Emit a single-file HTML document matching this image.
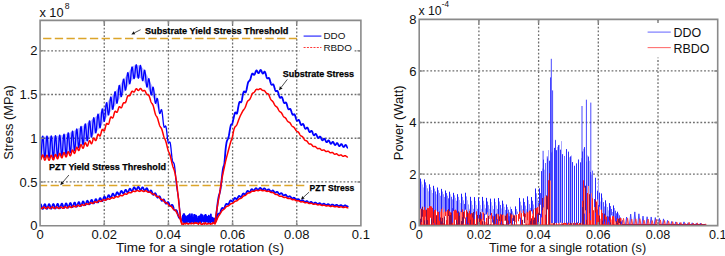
<!DOCTYPE html>
<html><head><meta charset="utf-8"><style>
html,body{margin:0;padding:0;background:#fff;}
svg{display:block;}
text{font-family:"Liberation Sans",sans-serif;fill:#111;}
.grid{stroke:#6e6e6e;stroke-width:1.3;stroke-dasharray:1.8 1.9;fill:none;}
.ax{stroke:#8a8a8a;stroke-width:1.6;fill:none;}
.thr{stroke:#dca52a;stroke-width:1.5;}
.bl{stroke:#0000ff;stroke-width:1.8;fill:none;stroke-linejoin:round;}
.rd{stroke:#ff0000;stroke-width:1.5;fill:none;stroke-linejoin:round;}
</style></head><body>
<svg width="725" height="256" viewBox="0 0 725 256">
<defs>
<clipPath id="cl"><rect x="40.1" y="20.4" width="320.79999999999995" height="205.29999999999998"/></clipPath>
<clipPath id="cr"><rect x="419.2" y="19.4" width="298.50000000000006" height="206.2"/></clipPath>
</defs>
<rect width="725" height="256" fill="#fff"/>
<line x1="104.26" y1="20.40" x2="104.26" y2="225.70" class="grid"/>
<line x1="168.42" y1="20.40" x2="168.42" y2="225.70" class="grid"/>
<line x1="232.58" y1="20.40" x2="232.58" y2="225.70" class="grid"/>
<line x1="296.74" y1="20.40" x2="296.74" y2="225.70" class="grid"/>
<line x1="40.10" y1="181.97" x2="360.90" y2="181.97" class="grid"/>
<line x1="40.10" y1="138.25" x2="360.90" y2="138.25" class="grid"/>
<line x1="40.10" y1="94.52" x2="360.90" y2="94.52" class="grid"/>
<line x1="40.10" y1="50.80" x2="360.90" y2="50.80" class="grid"/>
<path d="M43.1 38.4H301.1" class="thr" stroke-dasharray="8.3 3.4"/>
<path d="M38.9 185.5H304.3" class="thr" stroke-dasharray="8.3 3.386" clip-path="url(#cl)"/>
<g clip-path="url(#cl)">
<path d="M40.60 136.51L41.10 136.51L41.60 136.51L42.10 136.51L42.60 136.51L43.10 136.51L43.60 136.50L44.10 136.50L44.60 136.50L45.10 136.49L45.60 136.48L46.10 136.48L46.60 136.47L47.10 136.46L47.60 136.45L48.10 136.44L48.60 136.43L49.10 136.42L49.60 136.41L50.10 136.40L50.60 136.38L51.10 136.36L51.60 136.34L52.10 136.32L52.60 136.29L53.10 136.25L53.60 136.22L54.10 136.18L54.60 136.14L55.10 136.09L55.60 136.04L56.10 135.99L56.60 135.94L57.10 135.88L57.60 135.82L58.10 135.76L58.60 135.69L59.10 135.63L59.60 135.56L60.10 135.49L60.60 135.42L61.10 135.34L61.60 135.25L62.10 135.15L62.60 135.04L63.10 134.92L63.60 134.78L64.10 134.64L64.60 134.50L65.10 134.34L65.60 134.18L66.10 134.01L66.60 133.84L67.10 133.67L67.60 133.49L68.10 133.31L68.60 133.12L69.10 132.94L69.60 132.75L70.10 132.56L70.60 132.37L71.10 132.17L71.60 131.96L72.10 131.74L72.60 131.51L73.10 131.28L73.60 131.04L74.10 130.79L74.60 130.54L75.10 130.28L75.60 130.01L76.10 129.74L76.60 129.46L77.10 129.18L77.60 128.90L78.10 128.61L78.60 128.32L79.10 128.03L79.60 127.74L80.10 127.45L80.60 127.17L81.10 126.90L81.60 126.61L82.10 126.32L82.60 126.02L83.10 125.71L83.60 125.40L84.10 125.09L84.60 124.77L85.10 124.44L85.60 124.11L86.10 123.77L86.60 123.43L87.10 123.08L87.60 122.73L88.10 122.38L88.60 122.02L89.10 121.66L89.60 121.29L90.10 120.93L90.60 120.56L91.10 120.19L91.60 119.82L92.10 119.45L92.60 119.07L93.10 118.69L93.60 118.31L94.10 117.92L94.60 117.52L95.10 117.11L95.60 116.70L96.10 116.27L96.60 115.84L97.10 115.39L97.60 114.93L98.10 114.45L98.60 113.96L99.10 113.45L99.60 112.93L100.10 112.38L100.60 111.77L101.10 111.10L101.60 110.39L102.10 109.65L102.60 108.88L103.10 108.10L103.60 107.33L104.10 106.56L104.60 105.82L105.10 105.11L105.60 104.41L106.10 103.72L106.60 103.04L107.10 102.35L107.60 101.68L108.10 101.01L108.60 100.34L109.10 99.68L109.60 99.02L110.10 98.37L110.60 97.72L111.10 97.09L111.60 96.46L112.10 95.85L112.60 95.23L113.10 94.61L113.60 93.98L114.10 93.34L114.60 92.69L115.10 92.01L115.60 91.32L116.10 90.60L116.60 89.88L117.10 89.14L117.60 88.39L118.10 87.64L118.60 86.89L119.10 86.14L119.60 85.39L120.10 84.65L120.60 83.91L121.10 83.17L121.60 82.43L122.10 81.69L122.60 80.95L123.10 80.21L123.60 79.47L124.10 78.73L124.60 77.99L125.10 77.25L125.60 76.49L126.10 75.72L126.60 74.93L127.10 74.14L127.60 73.36L128.10 72.59L128.60 71.85L129.10 71.15L129.60 70.49L130.10 69.88L130.60 69.26L131.10 68.61L131.60 67.95L132.10 67.31L132.60 66.71L133.10 66.18L133.60 65.73L134.10 65.40L134.60 65.20L135.10 65.16L135.60 65.17L136.10 65.19L136.60 65.21L137.10 65.22L137.60 65.24L138.10 65.25L138.60 65.27L139.10 65.29L139.60 65.40L140.10 65.65L140.60 66.00L141.10 66.43L141.60 66.92L142.10 67.44L142.60 67.98L143.10 68.51L143.60 69.12L144.10 69.83L144.60 70.61L145.10 71.44L145.60 72.30L146.10 73.18L146.60 74.15L147.10 75.18L147.60 76.25L148.10 77.36L148.60 78.47L149.10 79.58L149.60 80.66L150.10 81.70L150.60 82.70L151.10 83.67L151.60 84.61L152.10 85.57L152.60 86.53L153.10 87.54L153.60 88.60L154.10 89.74L154.60 91.00L155.10 92.35L155.60 93.77L156.10 95.23L156.60 96.71L157.10 98.18L157.60 99.63L158.10 101.02L158.60 102.34L159.10 103.61L159.60 104.85L159.60 112.75L159.10 111.69L158.60 110.62L158.10 109.49L157.60 108.28L157.10 107.02L156.60 105.74L156.10 104.44L155.60 103.17L155.10 101.94L154.60 100.78L154.10 99.70L153.60 98.70L153.10 97.77L152.60 96.88L152.10 96.04L151.60 95.21L151.10 94.39L150.60 93.55L150.10 92.68L149.60 91.76L149.10 90.80L148.60 89.82L148.10 88.83L147.60 87.85L147.10 86.90L146.60 86.00L146.10 85.16L145.60 84.33L145.10 83.50L144.60 82.69L144.10 81.94L143.60 81.27L143.10 80.69L142.60 80.19L142.10 79.69L141.60 79.19L141.10 78.73L140.60 78.33L140.10 78.02L139.60 77.80L139.10 77.72L138.60 77.73L138.10 77.75L137.60 77.76L137.10 77.78L136.60 77.79L136.10 77.81L135.60 77.83L135.10 77.84L134.60 77.91L134.10 78.14L133.60 78.51L133.10 78.98L132.60 79.55L132.10 80.18L131.60 80.85L131.10 81.54L130.60 82.22L130.10 82.88L129.60 83.51L129.10 84.19L128.60 84.91L128.10 85.67L127.60 86.45L127.10 87.25L126.60 88.06L126.10 88.87L125.60 89.67L125.10 90.45L124.60 91.21L124.10 91.97L123.60 92.73L123.10 93.49L122.60 94.25L122.10 95.01L121.60 95.77L121.10 96.53L120.60 97.29L120.10 98.05L119.60 98.82L119.10 99.59L118.60 100.37L118.10 101.15L117.60 101.94L117.10 102.71L116.60 103.48L116.10 104.24L115.60 104.98L115.10 105.71L114.60 106.41L114.10 107.10L113.60 107.77L113.10 108.42L112.60 109.07L112.10 109.72L111.60 110.37L111.10 111.02L110.60 111.69L110.10 112.36L109.60 113.06L109.10 113.77L108.60 114.48L108.10 115.20L107.60 115.92L107.10 116.64L106.60 117.38L106.10 118.11L105.60 118.85L105.10 119.60L104.60 120.36L104.10 121.15L103.60 121.97L103.10 122.79L102.60 123.62L102.10 124.44L101.60 125.23L101.10 125.99L100.60 126.71L100.10 127.37L99.60 128.01L99.10 128.63L98.60 129.24L98.10 129.83L97.60 130.41L97.10 130.97L96.60 131.52L96.10 132.05L95.60 132.58L95.10 133.09L94.60 133.60L94.10 134.10L93.60 134.59L93.10 135.07L92.60 135.55L92.10 136.03L91.60 136.50L91.10 136.97L90.60 137.44L90.10 137.91L89.60 138.37L89.10 138.84L88.60 139.30L88.10 139.76L87.60 140.21L87.10 140.66L86.60 141.11L86.10 141.55L85.60 141.99L85.10 142.42L84.60 142.85L84.10 143.27L83.60 143.68L83.10 144.09L82.60 144.50L82.10 144.90L81.60 145.29L81.10 145.68L80.60 146.05L80.10 146.43L79.60 146.77L79.10 147.10L78.60 147.44L78.10 147.77L77.60 148.09L77.10 148.42L76.60 148.74L76.10 149.05L75.60 149.36L75.10 149.67L74.60 149.97L74.10 150.26L73.60 150.55L73.10 150.83L72.60 151.10L72.10 151.37L71.60 151.63L71.10 151.88L70.60 152.12L70.10 152.35L69.60 152.58L69.10 152.81L68.60 153.03L68.10 153.26L67.60 153.48L67.10 153.70L66.60 153.91L66.10 154.13L65.60 154.33L65.10 154.53L64.60 154.73L64.10 154.92L63.60 155.10L63.10 155.27L62.60 155.43L62.10 155.58L61.60 155.73L61.10 155.86L60.60 155.97L60.10 156.08L59.60 156.16L59.10 156.24L58.60 156.32L58.10 156.40L57.60 156.47L57.10 156.54L56.60 156.60L56.10 156.67L55.60 156.73L55.10 156.79L54.60 156.84L54.10 156.90L53.60 156.95L53.10 156.99L52.60 157.04L52.10 157.08L51.60 157.11L51.10 157.14L50.60 157.17L50.10 157.20L49.60 157.22L49.10 157.24L48.60 157.26L48.10 157.28L47.60 157.30L47.10 157.32L46.60 157.34L46.10 157.35L45.60 157.37L45.10 157.39L44.60 157.40L44.10 157.42L43.60 157.43L43.10 157.45L42.60 157.46L42.10 157.47L41.60 157.48L41.10 157.49L40.60 157.49Z" fill="#0000ff" fill-opacity="0.27"/>
<path d="M40.60 157.99L40.80 157.51L41.00 156.12L41.20 153.94L41.40 151.15L41.60 148.01L41.80 144.77L42.00 141.74L42.20 139.15L42.40 137.25L42.60 136.20L42.80 136.08L43.00 136.90L43.20 138.60L43.40 141.03L43.60 143.97L43.80 147.17L44.00 150.35L44.20 153.23L44.40 155.57L44.60 157.16L44.80 157.87L45.00 157.62L45.20 156.45L45.40 154.46L45.60 151.81L45.80 148.73L46.00 145.51L46.20 142.40L46.40 139.69L46.60 137.61L46.80 136.33L47.00 135.97L47.20 136.56L47.40 138.04L47.60 140.29L47.80 143.11L48.00 146.26L48.20 149.46L48.40 152.43L48.60 154.91L48.80 156.70L49.00 157.62L49.20 157.62L49.40 156.67L49.60 154.87L49.80 152.37L50.00 149.39L50.20 146.19L50.40 143.04L50.60 140.21L50.80 137.96L51.00 136.47L51.20 135.87L51.40 136.21L51.60 137.47L51.80 139.53L52.00 142.22L52.20 145.29L52.40 148.48L52.60 151.51L52.80 154.12L53.00 156.08L53.20 157.22L53.40 157.44L53.60 156.71L53.80 155.11L54.00 152.77L54.20 149.88L54.40 146.71L54.60 143.52L54.80 140.59L55.00 138.17L55.20 136.47L55.40 135.63L55.60 135.73L55.80 136.75L56.00 138.61L56.20 141.13L56.40 144.11L56.60 147.27L56.80 150.34L57.00 153.06L57.20 155.18L57.40 156.53L57.60 156.97L57.80 156.47L58.00 155.07L58.20 152.90L58.40 150.13L58.60 147.00L58.80 143.80L59.00 140.78L59.20 138.21L59.40 136.31L59.60 135.24L59.80 135.09L60.00 135.88L60.20 137.53L60.40 139.89L60.60 142.75L60.80 145.86L61.00 148.95L61.20 151.74L61.40 153.99L61.60 155.50L61.80 156.14L62.00 155.85L62.20 154.65L62.40 152.64L62.60 150.00L62.80 146.95L63.00 143.74L63.20 140.66L63.40 137.96L63.60 135.88L63.80 134.58L64.00 134.18L64.20 134.70L64.40 136.09L64.60 138.22L64.80 140.90L65.00 143.89L65.20 146.92L65.40 149.73L65.60 152.07L65.80 153.73L66.00 154.55L66.20 154.47L66.40 153.48L66.60 151.67L66.80 149.18L67.00 146.23L67.20 143.06L67.40 139.95L67.60 137.16L67.80 134.92L68.00 133.42L68.20 132.78L68.40 133.04L68.60 134.19L68.80 136.10L69.00 138.61L69.20 141.48L69.40 144.47L69.60 147.31L69.80 149.74L70.00 151.54L70.20 152.55L70.40 152.69L70.60 151.92L70.80 150.32L71.00 148.00L71.20 145.18L71.40 142.08L71.60 138.96L71.80 136.10L72.00 133.72L72.20 132.03L72.40 131.17L72.60 131.19L72.80 132.08L73.00 133.77L73.20 136.09L73.40 138.83L73.60 141.74L73.80 144.56L74.00 147.05L74.20 148.97L74.40 150.14L74.60 150.47L74.80 149.90L75.00 148.50L75.20 146.35L75.40 143.65L75.60 140.62L75.80 137.52L76.00 134.59L76.20 132.09L76.40 130.22L76.60 129.14L76.80 128.92L77.00 129.57L77.20 131.02L77.40 133.14L77.60 135.73L77.80 138.56L78.00 141.37L78.20 143.90L78.40 145.92L78.60 147.26L78.80 147.78L79.00 147.43L79.20 146.22L79.40 144.27L79.60 141.72L79.80 138.78L80.00 135.71L80.20 132.76L80.40 130.17L80.60 128.16L80.80 126.89L81.00 126.46L81.20 126.88L81.40 128.11L81.60 130.02L81.80 132.44L82.00 135.13L82.20 137.86L82.40 140.38L82.60 142.46L82.80 143.90L83.00 144.57L83.20 144.41L83.40 143.41L83.60 141.67L83.80 139.31L84.00 136.54L84.20 133.57L84.40 130.67L84.60 128.06L84.80 125.95L85.00 124.53L85.20 123.88L85.40 124.06L85.60 125.02L85.80 126.68L86.00 128.86L86.20 131.37L86.40 133.98L86.60 136.43L86.80 138.52L87.00 140.03L87.20 140.85L87.40 140.87L87.60 140.09L87.80 138.57L88.00 136.42L88.20 133.82L88.40 130.99L88.60 128.16L88.80 125.55L89.00 123.38L89.20 121.83L89.40 121.00L89.60 120.95L89.80 121.67L90.00 123.08L90.20 125.04L90.40 127.36L90.60 129.82L90.80 132.21L91.00 134.28L91.20 135.87L91.40 136.80L91.60 137.00L91.80 136.43L92.00 135.13L92.20 133.20L92.40 130.80L92.60 128.12L92.80 125.38L93.00 122.80L93.20 120.60L93.40 118.94L93.60 117.95L93.80 117.70L94.00 118.20L94.20 119.37L94.40 121.10L94.60 123.22L94.80 125.53L95.00 127.82L95.20 129.87L95.40 131.48L95.60 132.51L95.80 132.84L96.00 132.45L96.20 131.35L96.40 129.62L96.60 127.39L96.80 124.85L97.00 122.21L97.20 119.66L97.40 117.42L97.60 115.66L97.80 114.51L98.00 114.05L98.20 114.30L98.40 115.22L98.60 116.70L98.80 118.59L99.00 120.71L99.20 122.85L99.40 124.82L99.60 126.41L99.80 127.48L100.00 127.91L100.20 127.66L100.40 126.71L100.60 125.13L100.80 123.03L101.00 120.58L101.20 117.96L101.40 115.38L101.60 113.04L101.80 111.11L102.00 109.73L102.20 109.00L102.40 108.95L102.60 109.56L102.80 110.74L103.00 112.37L103.20 114.28L103.40 116.26L103.60 118.13L103.80 119.70L104.00 120.79L104.20 121.30L104.40 121.15L104.60 120.34L104.80 118.90L105.00 116.94L105.20 114.60L105.40 112.06L105.60 109.52L105.80 107.17L106.00 105.18L106.20 103.71L106.40 102.86L106.60 102.67L106.80 103.13L107.00 104.18L107.20 105.70L107.40 107.54L107.60 109.50L107.80 111.40L108.00 113.04L108.20 114.26L108.40 114.94L108.60 114.98L108.80 114.37L109.00 113.13L109.20 111.35L109.40 109.16L109.60 106.73L109.80 104.25L110.00 101.91L110.20 99.88L110.40 98.33L110.60 97.35L110.80 97.01L111.00 97.32L111.20 98.23L111.40 99.63L111.60 101.38L111.80 103.30L112.00 105.21L112.20 106.91L112.40 108.25L112.60 109.07L112.80 109.29L113.00 108.87L113.20 107.82L113.40 106.22L113.60 104.17L113.80 101.84L114.00 99.40L114.20 97.05L114.40 94.96L114.60 93.29L114.80 92.17L115.00 91.66L115.20 91.78L115.40 92.50L115.60 93.73L115.80 95.34L116.00 97.16L116.20 99.01L116.40 100.71L116.60 102.08L116.80 102.97L117.00 103.29L117.20 102.98L117.40 102.04L117.60 100.54L117.80 98.57L118.00 96.28L118.20 93.84L118.40 91.44L118.60 89.27L118.80 87.47L119.00 86.18L119.20 85.49L119.40 85.43L119.60 85.97L119.80 87.05L120.00 88.53L120.20 90.27L120.40 92.09L120.60 93.80L120.80 95.24L121.00 96.24L121.20 96.70L121.40 96.55L121.60 95.78L121.80 94.44L122.00 92.60L122.20 90.41L122.40 88.03L122.60 85.64L122.80 83.43L123.00 81.55L123.20 80.15L123.40 79.31L123.60 79.09L123.80 79.48L124.00 80.42L124.20 81.79L124.40 83.46L124.60 85.26L124.80 86.99L125.00 88.49L125.20 89.59L125.40 90.18L125.60 90.17L125.80 89.54L126.00 88.33L126.20 86.60L126.40 84.49L126.60 82.15L126.80 79.75L127.00 77.48L127.20 75.50L127.40 73.97L127.60 72.98L127.80 72.59L128.00 72.82L128.20 73.61L128.40 74.87L128.60 76.46L128.80 78.22L129.00 79.98L129.20 81.55L129.40 82.78L129.60 83.53L129.80 83.73L130.00 83.33L130.20 82.33L130.40 80.80L130.60 78.86L130.80 76.63L131.00 74.31L131.20 72.07L131.40 70.08L131.60 68.49L131.80 67.43L132.00 66.94L132.20 67.07L132.40 67.77L132.60 68.96L132.80 70.52L133.00 72.30L133.20 74.12L133.40 75.81L133.60 77.21L133.80 78.18L134.00 78.63L134.20 78.51L134.40 77.82L134.60 76.62L134.80 75.01L135.00 73.13L135.20 71.12L135.40 69.15L135.60 67.39L135.80 65.98L136.00 65.06L136.20 64.70L136.40 64.93L136.60 65.72L136.80 67.02L137.00 68.70L137.20 70.63L137.40 72.62L137.60 74.51L137.80 76.14L138.00 77.37L138.20 78.08L138.40 78.22L138.60 77.78L138.80 76.79L139.00 75.35L139.20 73.59L139.40 71.67L139.60 69.77L139.80 68.05L140.00 66.67L140.20 65.76L140.40 65.39L140.60 65.61L140.80 66.41L141.00 67.74L141.20 69.49L141.40 71.52L141.60 73.67L141.80 75.76L142.00 77.64L142.20 79.16L142.40 80.20L142.60 80.69L142.80 80.61L143.00 79.97L143.20 78.87L143.40 77.44L143.60 75.80L143.80 74.13L144.00 72.60L144.20 71.35L144.40 70.53L144.60 70.22L144.80 70.48L145.00 71.30L145.20 72.66L145.40 74.44L145.60 76.53L145.80 78.78L146.00 81.01L146.20 83.06L146.40 84.78L146.60 86.07L146.80 86.84L147.00 87.06L147.20 86.76L147.40 85.99L147.60 84.86L147.80 83.51L148.00 82.08L148.20 80.74L148.40 79.63L148.60 78.89L148.80 78.62L149.00 78.86L149.20 79.63L149.40 80.89L149.60 82.56L149.80 84.54L150.00 86.67L150.20 88.80L150.40 90.80L150.60 92.51L150.80 93.82L151.00 94.66L151.20 94.99L151.40 94.82L151.60 94.20L151.80 93.22L152.00 91.99L152.20 90.66L152.40 89.38L152.60 88.29L152.80 87.51L153.00 87.14L153.20 87.25L153.40 87.85L153.60 88.93L153.80 90.42L154.00 92.23L154.20 94.24L154.40 96.31L154.60 98.29L154.80 100.06L155.00 101.51L155.20 102.55L155.40 103.16L155.60 103.32L155.80 103.08L156.00 102.50L156.20 101.69L156.40 100.76L156.60 99.85L156.80 99.08L157.00 98.56L157.20 98.38L157.40 98.59L157.60 99.21L157.80 100.24L158.00 101.61L158.20 103.25L158.40 105.05L158.60 106.91L158.80 108.69L159.00 110.30L159.20 111.64L159.40 112.63L159.60 113.25L159.80 113.48L160.00 113.36L160.20 112.93L160.40 112.30L160.60 111.55L160.80 110.80L161.00 110.16L161.20 109.73L161.40 109.59L161.60 109.80L161.80 110.38L162.00 111.33L162.20 112.60L162.40 114.18L162.60 115.99L162.80 117.92L163.00 119.86L163.20 121.72L163.40 123.40L163.60 124.81L163.80 125.92L164.00 126.68L164.20 127.12L164.40 127.25L164.60 127.14L164.80 126.86L165.00 126.50L165.20 126.18L165.40 125.98L165.60 126.00L165.80 126.29L166.00 126.90L166.20 127.84L166.40 129.08L166.60 130.59L166.80 132.28L167.00 134.09L167.20 135.91L167.40 137.66L167.60 139.24L167.80 140.59L168.00 141.66L168.20 142.41L168.40 142.85L168.60 142.99L168.80 142.90L169.00 142.66L169.20 142.36L169.40 142.08L169.60 141.93L169.80 141.98L170.00 142.30L170.20 142.94L170.40 143.90L170.60 145.19L170.80 146.75L171.00 148.54L171.20 150.47L171.40 152.47L171.60 154.43L171.80 156.27L172.00 157.93L172.20 159.32L172.40 160.43L172.60 161.26L172.80 161.84L173.00 162.21L173.20 162.43L173.40 162.60L173.60 162.78L173.80 163.06L174.00 163.52L174.20 164.21L174.40 165.16L174.60 166.40L174.80 167.92L175.00 169.69L175.20 171.67L175.40 173.79L175.60 175.98L175.80 178.17L176.00 180.28L176.20 182.27L176.40 184.07L176.60 185.70L176.80 187.21L177.00 188.62L177.20 189.92L177.40 191.15L177.60 192.35L177.80 193.55L178.00 194.80L178.20 196.14L178.40 197.59L178.60 199.16L178.80 200.84L179.00 202.59L179.20 204.44L179.40 206.44L179.60 208.50L179.80 210.59L180.00 212.61L180.20 214.49L180.40 216.16L180.60 217.61L180.80 218.81L181.00 219.76L181.20 220.50L181.40 221.05L181.60 221.47L181.80 221.79L182.00 222.08L182.20 222.36L182.40 222.68" class="bl" style="stroke-width:1.3"/>
<path d="M215.00 222.00L215.20 220.87L215.40 219.75L215.60 218.60L215.80 217.41L216.00 216.15L216.20 214.80L216.40 213.35L216.60 211.81L216.80 210.18L217.00 208.49L217.20 206.77L217.40 205.05L217.60 203.38L217.80 201.80L218.00 200.34L218.20 199.02L218.40 197.86L218.60 196.86L218.80 196.00L219.00 195.26L219.20 194.60L219.40 193.97L219.60 193.33L219.80 192.62L220.00 191.79L220.20 190.79L220.40 189.65L220.60 188.34L220.80 186.89L221.00 185.29L221.20 183.59L221.40 181.81L221.60 179.99L221.80 178.18L222.00 176.40L222.20 174.63L222.40 172.89L222.60 171.26L222.80 169.83L223.00 168.65L223.20 167.74L223.40 167.01L223.60 166.36L223.80 165.70L224.00 164.93L224.20 163.97L224.40 162.73L224.60 161.12L224.80 158.95L225.00 156.42L225.20 153.81L225.40 151.41L225.60 149.42L225.80 147.62L226.00 145.99L226.20 144.55L226.40 143.31L226.60 142.28L226.80 141.46L227.00 140.82L227.20 140.33L227.40 139.93L227.60 139.56L227.80 139.18L228.00 138.75L228.20 138.24L228.40 137.62L228.60 136.87L228.80 135.99L229.00 134.97L229.20 133.85L229.40 132.66L229.60 131.44L229.80 130.23L230.00 129.05L230.20 127.95L230.40 126.96L230.60 126.11L230.80 125.42L231.00 124.90L231.20 124.54L231.40 124.31L231.60 124.18L231.80 124.10L232.00 124.00L232.20 123.76L232.40 123.30L232.60 122.65L232.80 121.84L233.00 120.92L233.20 119.96L233.40 119.02L233.60 118.18L233.80 117.30L234.00 116.39L234.20 115.50L234.40 114.66L234.60 113.92L234.80 113.31L235.00 112.86L235.20 112.59L235.40 112.48L235.60 112.53L235.80 112.71L236.00 112.97L236.20 113.26L236.40 113.52L236.60 113.70L236.80 113.71L237.00 113.44L237.20 112.88L237.40 112.06L237.60 111.05L237.80 109.90L238.00 108.69L238.20 107.51L238.40 106.39L238.60 105.32L238.80 104.34L239.00 103.49L239.20 102.80L239.40 102.29L239.60 101.97L239.80 101.81L240.00 101.81L240.20 101.91L240.40 102.07L240.60 102.23L240.80 102.33L241.00 102.32L241.20 102.14L241.40 101.76L241.60 101.18L241.80 100.40L242.00 99.46L242.20 98.40L242.40 97.26L242.60 96.11L242.80 95.00L243.00 94.01L243.20 93.16L243.40 92.47L243.60 91.96L243.80 91.62L244.00 91.47L244.20 91.47L244.40 91.59L244.60 91.80L244.80 92.04L245.00 92.26L245.20 92.42L245.40 92.47L245.60 92.37L245.80 92.12L246.00 91.69L246.20 91.09L246.40 90.34L246.60 89.46L246.80 88.47L247.00 87.42L247.20 86.36L247.40 85.33L247.60 84.38L247.80 83.55L248.00 82.84L248.20 82.27L248.40 81.84L248.60 81.52L248.80 81.29L249.00 81.13L249.20 80.99L249.40 80.84L249.60 80.65L249.80 80.41L250.00 80.09L250.20 79.69L250.40 79.16L250.60 78.54L250.80 77.83L251.00 77.08L251.20 76.32L251.40 75.60L251.60 74.94L251.80 74.39L252.00 73.97L252.20 73.69L252.40 73.55L252.60 73.54L252.80 73.65L253.00 73.85L253.20 74.10L253.40 74.36L253.60 74.60L253.80 74.77L254.00 74.86L254.20 74.83L254.40 74.67L254.60 74.39L254.80 73.99L255.00 73.50L255.20 72.95L255.40 72.38L255.60 71.83L255.80 71.34L256.00 70.95L256.20 70.67L256.40 70.52L256.60 70.51L256.80 70.63L257.00 70.87L257.20 71.21L257.40 71.60L257.60 72.02L257.80 72.41L258.00 72.76L258.20 73.01L258.40 73.15L258.60 73.16L258.80 73.04L259.00 72.80L259.20 72.45L259.40 72.03L259.60 71.57L259.80 71.11L260.00 70.68L260.20 70.34L260.40 70.10L260.60 69.99L260.80 70.02L261.00 70.19L261.20 70.48L261.40 70.88L261.60 71.34L261.80 71.84L262.00 72.33L262.20 72.78L262.40 73.15L262.60 73.42L262.80 73.56L263.00 73.57L263.20 73.46L263.40 73.24L263.60 72.93L263.80 72.58L264.00 72.22L264.20 71.91L264.40 71.71L264.60 71.65L264.80 71.74L265.00 71.99L265.20 72.40L265.40 72.94L265.60 73.58L265.80 74.31L266.00 75.06L266.20 75.80L266.40 76.49L266.60 77.10L266.80 77.61L267.00 78.00L267.20 78.27L267.40 78.41L267.60 78.43L267.80 78.37L268.00 78.25L268.20 78.11L268.40 77.98L268.60 77.91L268.80 77.92L269.00 78.04L269.20 78.29L269.40 78.67L269.60 79.17L269.80 79.77L270.00 80.46L270.20 81.19L270.40 81.93L270.60 82.64L270.80 83.28L271.00 83.83L271.20 84.27L271.40 84.57L271.60 84.75L271.80 84.81L272.00 84.77L272.20 84.67L272.40 84.53L272.60 84.40L272.80 84.31L273.00 84.30L273.20 84.39L273.40 84.61L273.60 84.95L273.80 85.42L274.00 86.00L274.20 86.67L274.40 87.39L274.60 88.13L274.80 88.85L275.00 89.52L275.20 90.10L275.40 90.57L275.60 90.92L275.80 91.14L276.00 91.24L276.20 91.24L276.40 91.17L276.60 91.05L276.80 90.94L277.00 90.87L277.20 90.86L277.40 90.96L277.60 91.18L277.80 91.52L278.00 91.99L278.20 92.57L278.40 93.24L278.60 93.96L278.80 94.71L279.00 95.44L279.20 96.12L279.40 96.70L279.60 97.17L279.80 97.51L280.00 97.72L280.20 97.80L280.40 97.77L280.60 97.65L280.80 97.48L281.00 97.30L281.20 97.13L281.40 97.02L281.60 97.00L281.80 97.10L282.00 97.31L282.20 97.66L282.40 98.12L282.60 98.68L282.80 99.32L283.00 100.00L283.20 100.68L283.40 101.32L283.60 101.90L283.80 102.38L284.00 102.74L284.20 102.98L284.40 103.09L284.60 103.10L284.80 103.02L285.00 102.89L285.20 102.74L285.40 102.60L285.60 102.51L285.80 102.51L286.00 102.62L286.20 102.85L286.40 103.21L286.60 103.69L286.80 104.28L287.00 104.96L287.20 105.67L287.40 106.40L287.60 107.11L287.80 107.75L288.00 108.30L288.20 108.74L288.40 109.06L288.60 109.25L288.80 109.33L289.00 109.31L289.20 109.22L289.40 109.10L289.60 108.98L289.80 108.89L290.00 108.86L290.20 108.93L290.40 109.11L290.60 109.41L290.80 109.82L291.00 110.33L291.20 110.92L291.40 111.57L291.60 112.22L291.80 112.86L292.00 113.44L292.20 113.94L292.40 114.34L292.60 114.62L292.80 114.78L293.00 114.82L293.20 114.77L293.40 114.66L293.60 114.51L293.80 114.37L294.00 114.26L294.20 114.23L294.40 114.30L294.60 114.50L294.80 114.83L295.00 115.28L295.20 115.84L295.40 116.49L295.60 117.19L295.80 117.91L296.00 118.60L296.20 119.23L296.40 119.77L296.60 120.21L296.80 120.52L297.00 120.70L297.20 120.77L297.40 120.73L297.60 120.60L297.80 120.43L298.00 120.24L298.20 120.06L298.40 119.94L298.60 119.91L298.80 119.97L299.00 120.15L299.20 120.45L299.40 120.86L299.60 121.36L299.80 121.92L300.00 122.52L300.20 123.12L300.40 123.68L300.60 124.17L300.80 124.56L301.00 124.85L301.20 125.01L301.40 125.06L301.60 125.00L301.80 124.86L302.00 124.66L302.20 124.43L302.40 124.22L302.60 124.06L302.80 123.97L303.00 123.98L303.20 124.11L303.40 124.35L303.60 124.71L303.80 125.16L304.00 125.69L304.20 126.25L304.40 126.83L304.60 127.37L304.80 127.86L305.00 128.26L305.20 128.55L305.40 128.72L305.60 128.78L305.80 128.72L306.00 128.58L306.20 128.38L306.40 128.14L306.60 127.91L306.80 127.71L307.00 127.59L307.20 127.56L307.40 127.64L307.60 127.83L307.80 128.14L308.00 128.55L308.20 129.04L308.40 129.58L308.60 130.13L308.80 130.67L309.00 131.15L309.20 131.55L309.40 131.86L309.60 132.04L309.80 132.11L310.00 132.07L310.20 131.94L310.40 131.74L310.60 131.50L310.80 131.26L311.00 131.05L311.20 130.89L311.40 130.83L311.60 130.87L311.80 131.03L312.00 131.30L312.20 131.68L312.40 132.14L312.60 132.65L312.80 133.19L313.00 133.72L313.20 134.21L313.40 134.62L313.60 134.94L313.80 135.15L314.00 135.25L314.20 135.23L314.40 135.11L314.60 134.92L314.80 134.68L315.00 134.43L315.20 134.20L315.40 134.02L315.60 133.93L315.80 133.93L316.00 134.04L316.20 134.27L316.40 134.60L316.60 135.02L316.80 135.51L317.00 136.02L317.20 136.53L317.40 137.01L317.60 137.42L317.80 137.74L318.00 137.96L318.20 138.06L318.40 138.05L318.60 137.93L318.80 137.74L319.00 137.49L319.20 137.21L319.40 136.95L319.60 136.74L319.80 136.59L320.00 136.54L320.20 136.60L320.40 136.77L320.60 137.05L320.80 137.42L321.00 137.85L321.20 138.33L321.40 138.82L321.60 139.28L321.80 139.68L322.00 140.00L322.20 140.21L322.40 140.32L322.60 140.31L322.80 140.20L323.00 140.00L323.20 139.75L323.40 139.46L323.60 139.18L323.80 138.94L324.00 138.76L324.20 138.67L324.40 138.68L324.60 138.81L324.80 139.04L325.00 139.37L325.20 139.78L325.40 140.23L325.60 140.69L325.80 141.14L326.00 141.54L326.20 141.86L326.40 142.08L326.60 142.20L326.80 142.21L327.00 142.11L327.20 141.92L327.40 141.66L327.60 141.37L327.80 141.07L328.00 140.80L328.20 140.59L328.40 140.46L328.60 140.44L328.80 140.52L329.00 140.71L329.20 141.00L329.40 141.36L329.60 141.78L329.80 142.22L330.00 142.66L330.20 143.05L330.40 143.37L330.60 143.61L330.80 143.73L331.00 143.75L331.20 143.66L331.40 143.48L331.60 143.23L331.80 142.93L332.00 142.62L332.20 142.33L332.40 142.10L332.60 141.93L332.80 141.87L333.00 141.91L333.20 142.06L333.40 142.31L333.60 142.64L333.80 143.03L334.00 143.46L334.20 143.88L334.40 144.27L334.60 144.60L334.80 144.84L335.00 144.98L335.20 145.02L335.40 144.94L335.60 144.78L335.80 144.53L336.00 144.24L336.20 143.92L336.40 143.62L336.60 143.36L336.80 143.17L337.00 143.08L337.20 143.08L337.40 143.19L337.60 143.41L337.80 143.71L338.00 144.07L338.20 144.48L338.40 144.89L338.60 145.28L338.80 145.61L339.00 145.87L339.20 146.03L339.40 146.08L339.60 146.03L339.80 145.88L340.00 145.65L340.20 145.36L340.40 145.05L340.60 144.74L340.80 144.46L341.00 144.25L341.20 144.12L341.40 144.09L341.60 144.17L341.80 144.35L342.00 144.63L342.20 144.97L342.40 145.36L342.60 145.76L342.80 146.14L343.00 146.48L343.20 146.75L343.40 146.93L343.60 147.00L343.80 146.97L344.00 146.84L344.20 146.62L344.40 146.34L344.60 146.03L344.80 145.72L345.00 145.43L345.20 145.19L345.40 145.04L345.60 144.98L345.80 145.02L346.00 145.17L346.20 145.41L346.40 145.73L346.60 146.10L346.80 146.48L347.00 146.87L347.20 147.21L347.40 147.49L347.60 147.68L347.80 147.77L348.00 147.75" class="bl"/>
<path d="M40.60 204.20L40.80 204.31L41.00 204.61L41.20 205.09L41.40 205.69L41.60 206.37L41.80 207.07L42.00 207.73L42.20 208.29L42.40 208.70L42.60 208.93L42.80 208.95L43.00 208.76L43.20 208.39L43.40 207.86L43.60 207.22L43.80 206.53L44.00 205.83L44.20 205.21L44.40 204.70L44.60 204.35L44.80 204.20L45.00 204.24L45.20 204.49L45.40 204.92L45.60 205.49L45.80 206.14L46.00 206.83L46.20 207.49L46.40 208.07L46.60 208.51L46.80 208.78L47.00 208.85L47.20 208.72L47.40 208.39L47.60 207.90L47.80 207.29L48.00 206.61L48.20 205.92L48.40 205.27L48.60 204.73L48.80 204.35L49.00 204.14L49.20 204.14L49.40 204.33L49.60 204.71L49.80 205.23L50.00 205.86L50.20 206.54L50.40 207.20L50.60 207.79L50.80 208.26L51.00 208.57L51.20 208.69L51.40 208.60L51.60 208.33L51.80 207.88L52.00 207.30L52.20 206.63L52.40 205.95L52.60 205.29L52.80 204.73L53.00 204.30L53.20 204.05L53.40 204.00L53.60 204.14L53.80 204.47L54.00 204.95L54.20 205.55L54.40 206.21L54.60 206.87L54.80 207.47L55.00 207.97L55.20 208.31L55.40 208.48L55.60 208.44L55.80 208.21L56.00 207.81L56.20 207.26L56.40 206.62L56.60 205.94L56.80 205.28L57.00 204.70L57.20 204.24L57.40 203.95L57.60 203.84L57.80 203.93L58.00 204.21L58.20 204.65L58.40 205.22L58.60 205.86L58.80 206.51L59.00 207.13L59.20 207.65L59.40 208.03L59.60 208.23L59.80 208.25L60.00 208.07L60.20 207.71L60.40 207.20L60.60 206.59L60.80 205.92L61.00 205.26L61.20 204.66L61.40 204.17L61.60 203.83L61.80 203.67L62.00 203.71L62.20 203.94L62.40 204.33L62.60 204.86L62.80 205.47L63.00 206.12L63.20 206.73L63.40 207.27L63.60 207.68L63.80 207.92L64.00 207.98L64.20 207.84L64.40 207.52L64.60 207.05L64.80 206.46L65.00 205.80L65.20 205.14L65.40 204.52L65.60 204.00L65.80 203.62L66.00 203.42L66.20 203.40L66.40 203.58L66.60 203.92L66.80 204.41L67.00 204.99L67.20 205.61L67.40 206.23L67.60 206.78L67.80 207.21L68.00 207.49L68.20 207.59L68.40 207.49L68.60 207.22L68.80 206.78L69.00 206.22L69.20 205.58L69.40 204.92L69.60 204.29L69.80 203.74L70.00 203.33L70.20 203.08L70.40 203.01L70.60 203.13L70.80 203.42L71.00 203.87L71.20 204.42L71.40 205.03L71.60 205.63L71.80 206.19L72.00 206.65L72.20 206.96L72.40 207.10L72.60 207.05L72.80 206.82L73.00 206.42L73.20 205.89L73.40 205.27L73.60 204.61L73.80 203.98L74.00 203.41L74.20 202.96L74.40 202.67L74.60 202.55L74.80 202.62L75.00 202.87L75.20 203.27L75.40 203.79L75.60 204.37L75.80 204.97L76.00 205.54L76.20 206.01L76.40 206.35L76.60 206.53L76.80 206.53L77.00 206.34L77.20 205.99L77.40 205.49L77.60 204.89L77.80 204.25L78.00 203.61L78.20 203.03L78.40 202.55L78.60 202.22L78.80 202.06L79.00 202.08L79.20 202.28L79.40 202.63L79.60 203.12L79.80 203.68L80.00 204.27L80.20 204.84L80.40 205.33L80.60 205.70L80.80 205.91L81.00 205.95L81.20 205.80L81.40 205.49L81.60 205.03L81.80 204.45L82.00 203.82L82.20 203.18L82.40 202.58L82.60 202.08L82.80 201.70L83.00 201.49L83.20 201.46L83.40 201.61L83.60 201.91L83.80 202.35L84.00 202.88L84.20 203.44L84.40 204.00L84.60 204.49L84.80 204.88L85.00 205.12L85.20 205.19L85.40 205.08L85.60 204.81L85.80 204.38L86.00 203.83L86.20 203.22L86.40 202.58L86.60 201.97L86.80 201.44L87.00 201.03L87.20 200.78L87.40 200.70L87.60 200.79L87.80 201.05L88.00 201.44L88.20 201.93L88.40 202.48L88.60 203.03L88.80 203.53L89.00 203.93L89.20 204.20L89.40 204.31L89.60 204.25L89.80 204.01L90.00 203.63L90.20 203.12L90.40 202.52L90.60 201.90L90.80 201.29L91.00 200.75L91.20 200.31L91.40 200.02L91.60 199.90L91.80 199.95L92.00 200.16L92.20 200.52L92.40 200.98L92.60 201.50L92.80 202.04L93.00 202.55L93.20 202.97L93.40 203.27L93.60 203.42L93.80 203.39L94.00 203.20L94.20 202.86L94.40 202.38L94.60 201.81L94.80 201.20L95.00 200.59L95.20 200.04L95.40 199.58L95.60 199.25L95.80 199.08L96.00 199.09L96.20 199.25L96.40 199.56L96.60 199.98L96.80 200.48L97.00 201.00L97.20 201.50L97.40 201.93L97.60 202.25L97.80 202.42L98.00 202.43L98.20 202.28L98.40 201.97L98.60 201.52L98.80 200.97L99.00 200.37L99.20 199.76L99.40 199.19L99.60 198.70L99.80 198.34L100.00 198.12L100.20 198.07L100.40 198.18L100.60 198.43L100.80 198.80L101.00 199.26L101.20 199.75L101.40 200.23L101.60 200.66L101.80 200.98L102.00 201.16L102.20 201.20L102.40 201.07L102.60 200.78L102.80 200.35L103.00 199.81L103.20 199.21L103.40 198.59L103.60 197.99L103.80 197.47L104.00 197.06L104.20 196.79L104.40 196.67L104.60 196.72L104.80 196.92L105.00 197.24L105.20 197.65L105.40 198.11L105.60 198.57L105.80 198.98L106.00 199.31L106.20 199.52L106.40 199.58L106.60 199.48L106.80 199.22L107.00 198.83L107.20 198.32L107.40 197.73L107.60 197.12L107.80 196.52L108.00 195.98L108.20 195.55L108.40 195.25L108.60 195.09L108.80 195.10L109.00 195.26L109.20 195.54L109.40 195.93L109.60 196.38L109.80 196.83L110.00 197.26L110.20 197.61L110.40 197.85L110.60 197.95L110.80 197.90L111.00 197.69L111.20 197.34L111.40 196.87L111.60 196.32L111.80 195.73L112.00 195.15L112.20 194.61L112.40 194.17L112.60 193.84L112.80 193.66L113.00 193.63L113.20 193.75L113.40 194.00L113.60 194.36L113.80 194.78L114.00 195.22L114.20 195.64L114.40 196.00L114.60 196.26L114.80 196.39L115.00 196.37L115.20 196.21L115.40 195.90L115.60 195.47L115.80 194.96L116.00 194.40L116.20 193.83L116.40 193.30L116.60 192.84L116.80 192.50L117.00 192.29L117.20 192.23L117.40 192.31L117.60 192.52L117.80 192.84L118.00 193.24L118.20 193.66L118.40 194.08L118.60 194.45L118.80 194.73L119.00 194.89L119.20 194.91L119.40 194.79L119.60 194.53L119.80 194.15L120.00 193.68L120.20 193.15L120.40 192.61L120.60 192.09L120.80 191.63L121.00 191.28L121.20 191.05L121.40 190.95L121.60 191.00L121.80 191.18L122.00 191.47L122.20 191.84L122.40 192.26L122.60 192.67L122.80 193.04L123.00 193.34L123.20 193.53L123.40 193.59L123.60 193.51L123.80 193.30L124.00 192.96L124.20 192.53L124.40 192.04L124.60 191.52L124.80 191.01L125.00 190.56L125.20 190.19L125.40 189.94L125.60 189.82L125.80 189.84L126.00 189.98L126.20 190.24L126.40 190.58L126.60 190.97L126.80 191.37L127.00 191.74L127.20 192.05L127.40 192.26L127.60 192.35L127.80 192.31L128.00 192.14L128.20 191.85L128.40 191.45L128.60 190.99L128.80 190.49L129.00 190.00L129.20 189.55L129.40 189.17L129.60 188.90L129.80 188.75L130.00 188.74L130.20 188.84L130.40 189.06L130.60 189.36L130.80 189.72L131.00 190.10L131.20 190.46L131.40 190.76L131.60 190.98L131.80 191.08L132.00 191.06L132.20 190.91L132.40 190.64L132.60 190.26L132.80 189.81L133.00 189.31L133.20 188.81L133.40 188.34L133.60 187.94L133.80 187.63L134.00 187.44L134.20 187.39L134.40 187.46L134.60 187.65L134.80 187.94L135.00 188.30L135.20 188.69L135.40 189.07L135.60 189.42L135.80 189.69L136.00 189.86L136.20 189.92L136.40 189.85L136.60 189.66L136.80 189.38L137.00 189.01L137.20 188.59L137.40 188.16L137.60 187.75L137.80 187.40L138.00 187.14L138.20 186.99L138.40 186.97L138.60 187.07L138.80 187.30L139.00 187.62L139.20 188.02L139.40 188.46L139.60 188.91L139.80 189.31L140.00 189.65L140.20 189.90L140.40 190.02L140.60 190.03L140.80 189.91L141.00 189.68L141.20 189.35L141.40 188.97L141.60 188.57L141.80 188.18L142.00 187.84L142.20 187.57L142.40 187.42L142.60 187.38L142.80 187.48L143.00 187.69L143.20 188.00L143.40 188.40L143.60 188.85L143.80 189.30L144.00 189.73L144.20 190.10L144.40 190.38L144.60 190.55L144.80 190.60L145.00 190.52L145.20 190.33L145.40 190.06L145.60 189.72L145.80 189.34L146.00 188.98L146.20 188.66L146.40 188.42L146.60 188.28L146.80 188.26L147.00 188.37L147.20 188.60L147.40 188.95L147.60 189.38L147.80 189.87L148.00 190.39L148.20 190.89L148.40 191.34L148.60 191.71L148.80 191.99L149.00 192.14L149.20 192.17L149.40 192.09L149.60 191.91L149.80 191.66L150.00 191.37L150.20 191.08L150.40 190.81L150.60 190.61L150.80 190.50L151.00 190.51L151.20 190.64L151.40 190.89L151.60 191.25L151.80 191.71L152.00 192.22L152.20 192.77L152.40 193.31L152.60 193.81L152.80 194.23L153.00 194.55L153.20 194.76L153.40 194.84L153.60 194.81L153.80 194.67L154.00 194.45L154.20 194.18L154.40 193.89L154.60 193.63L154.80 193.41L155.00 193.28L155.20 193.26L155.40 193.35L155.60 193.57L155.80 193.90L156.00 194.34L156.20 194.84L156.40 195.38L156.60 195.92L156.80 196.44L157.00 196.88L157.20 197.24L157.40 197.49L157.60 197.61L157.80 197.62L158.00 197.53L158.20 197.35L158.40 197.11L158.60 196.85L158.80 196.61L159.00 196.40L159.20 196.28L159.40 196.26L159.60 196.35L159.80 196.56L160.00 196.89L160.20 197.32L160.40 197.82L160.60 198.37L160.80 198.93L161.00 199.46L161.20 199.94L161.40 200.33L161.60 200.61L161.80 200.78L162.00 200.82L162.20 200.76L162.40 200.60L162.60 200.38L162.80 200.13L163.00 199.88L163.20 199.66L163.40 199.52L163.60 199.46L163.80 199.51L164.00 199.69L164.20 199.97L164.40 200.36L164.60 200.82L164.80 201.34L165.00 201.88L165.20 202.39L165.40 202.86L165.60 203.24L165.80 203.52L166.00 203.68L166.20 203.72L166.40 203.65L166.60 203.48L166.80 203.24L167.00 202.95L167.20 202.66L167.40 202.40L167.60 202.20L167.80 202.09L168.00 202.08L168.20 202.19L168.40 202.41L168.60 202.74L168.80 203.16L169.00 203.64L169.20 204.15L169.40 204.65L169.60 205.12L169.80 205.51L170.00 205.82L170.20 206.02L170.40 206.10L170.60 206.08L170.80 205.96L171.00 205.77L171.20 205.54L171.40 205.29L171.60 205.08L171.80 204.91L172.00 204.84L172.20 204.87L172.40 205.03L172.60 205.31L172.80 205.70L173.00 206.19L173.20 206.76L173.40 207.37L173.60 207.99L173.80 208.58L174.00 209.12L174.20 209.58L174.40 209.94L174.60 210.19L174.80 210.33L175.00 210.38L175.20 210.35L175.40 210.27L175.60 210.18L175.80 210.10L176.00 210.07L176.20 210.12L176.40 210.27L176.60 210.53L176.80 210.91L177.00 211.41L177.20 212.01L177.40 212.69L177.60 213.42L177.80 214.18L178.00 214.93L178.20 215.63L178.40 216.26L178.60 216.80L178.80 217.24L179.00 217.58L179.20 217.82L179.40 217.98L179.60 218.09L179.80 218.18L180.00 218.28L180.20 218.42L180.40 218.64L180.60 218.95L180.80 219.38L181.00 219.92L181.20 220.58L181.40 221.34" class="bl"/>
<path d="M214.50 223.00L214.70 222.81L214.90 222.60L215.10 222.34L215.30 222.01L215.50 221.59L215.70 221.07L215.90 220.47L216.10 219.79L216.30 219.05L216.50 218.27L216.70 217.49L216.90 216.74L217.10 216.04L217.30 215.41L217.50 214.88L217.70 214.45L217.90 214.13L218.10 213.92L218.30 213.79L218.50 213.74L218.70 213.73L218.90 213.74L219.10 213.73L219.30 213.68L219.50 213.57L219.70 213.37L219.90 213.09L220.10 212.72L220.30 212.26L220.50 211.73L220.70 211.16L220.90 210.56L221.10 209.98L221.30 209.43L221.50 208.95L221.70 208.55L221.90 208.25L222.10 208.06L222.30 207.96L222.50 207.95L222.70 208.01L222.90 208.12L223.10 208.25L223.30 208.36L223.50 208.43L223.70 208.44L223.90 208.37L224.10 208.20L224.30 207.93L224.50 207.58L224.70 207.15L224.90 206.66L225.10 206.15L225.30 205.63L225.50 205.14L225.70 204.70L225.90 204.34L226.10 204.07L226.30 203.90L226.50 203.82L226.70 203.84L226.90 203.92L227.10 204.05L227.30 204.21L227.50 204.36L227.70 204.47L227.90 204.53L228.10 204.51L228.30 204.39L228.50 204.19L228.70 203.89L228.90 203.52L229.10 203.08L229.30 202.62L229.50 202.14L229.70 201.68L229.90 201.27L230.10 200.93L230.30 200.68L230.50 200.52L230.70 200.45L230.90 200.48L231.10 200.58L231.30 200.74L231.50 200.92L231.70 201.11L231.90 201.27L232.10 201.38L232.30 201.41L232.50 201.37L232.70 201.23L232.90 201.00L233.10 200.70L233.30 200.33L233.50 199.92L233.70 199.50L233.90 199.08L234.10 198.71L234.30 198.40L234.50 198.17L234.70 198.03L234.90 197.98L235.10 198.03L235.30 198.14L235.50 198.32L235.70 198.53L235.90 198.74L236.10 198.94L236.30 199.08L236.50 199.17L236.70 199.17L236.90 199.08L237.10 198.90L237.30 198.63L237.50 198.30L237.70 197.92L237.90 197.52L238.10 197.12L238.30 196.75L238.50 196.44L238.70 196.19L238.90 196.03L239.10 195.96L239.30 195.98L239.50 196.07L239.70 196.22L239.90 196.40L240.10 196.60L240.30 196.78L240.50 196.92L240.70 196.99L240.90 196.99L241.10 196.90L241.30 196.72L241.50 196.46L241.70 196.12L241.90 195.73L242.10 195.32L242.30 194.89L242.50 194.50L242.70 194.14L242.90 193.86L243.10 193.65L243.30 193.53L243.50 193.50L243.70 193.54L243.90 193.65L244.10 193.80L244.30 193.97L244.50 194.13L244.70 194.26L244.90 194.33L245.10 194.34L245.30 194.26L245.50 194.10L245.70 193.85L245.90 193.54L246.10 193.17L246.30 192.77L246.50 192.36L246.70 191.97L246.90 191.62L247.10 191.33L247.30 191.12L247.50 191.00L247.70 190.96L247.90 191.00L248.10 191.11L248.30 191.27L248.50 191.46L248.70 191.64L248.90 191.81L249.10 191.93L249.30 191.98L249.50 191.96L249.70 191.86L249.90 191.69L250.10 191.44L250.30 191.13L250.50 190.79L250.70 190.43L250.90 190.08L251.10 189.77L251.30 189.51L251.50 189.32L251.70 189.22L251.90 189.20L252.10 189.26L252.30 189.38L252.50 189.56L252.70 189.77L252.90 189.99L253.10 190.19L253.30 190.35L253.50 190.46L253.70 190.49L253.90 190.45L254.10 190.32L254.30 190.13L254.50 189.88L254.70 189.59L254.90 189.28L255.10 188.98L255.30 188.71L255.50 188.48L255.70 188.32L255.90 188.24L256.10 188.24L256.30 188.31L256.50 188.46L256.70 188.66L256.90 188.89L257.10 189.14L257.30 189.37L257.50 189.57L257.70 189.72L257.90 189.80L258.10 189.81L258.30 189.73L258.50 189.59L258.70 189.38L258.90 189.13L259.10 188.86L259.30 188.58L259.50 188.33L259.70 188.12L259.90 187.98L260.10 187.91L260.30 187.92L260.50 188.01L260.70 188.16L260.90 188.38L261.10 188.64L261.30 188.91L261.50 189.18L261.70 189.43L261.90 189.62L262.10 189.76L262.30 189.82L262.50 189.81L262.70 189.72L262.90 189.58L263.10 189.38L263.30 189.16L263.50 188.93L263.70 188.71L263.90 188.53L264.10 188.41L264.30 188.35L264.50 188.37L264.70 188.46L264.90 188.62L265.10 188.83L265.30 189.09L265.50 189.38L265.70 189.66L265.90 189.93L266.10 190.16L266.30 190.33L266.50 190.43L266.70 190.46L266.90 190.42L267.10 190.32L267.30 190.16L267.50 189.98L267.70 189.78L267.90 189.60L268.10 189.44L268.30 189.33L268.50 189.29L268.70 189.31L268.90 189.41L269.10 189.57L269.30 189.80L269.50 190.07L269.70 190.36L269.90 190.66L270.10 190.93L270.30 191.18L270.50 191.37L270.70 191.50L270.90 191.55L271.10 191.54L271.30 191.46L271.50 191.33L271.70 191.17L271.90 190.99L272.10 190.81L272.30 190.66L272.50 190.54L272.70 190.49L272.90 190.50L273.10 190.58L273.30 190.73L273.50 190.94L273.70 191.19L273.90 191.48L274.10 191.77L274.30 192.05L274.50 192.31L274.70 192.51L274.90 192.66L275.10 192.74L275.30 192.75L275.50 192.70L275.70 192.60L275.90 192.46L276.10 192.29L276.30 192.13L276.50 191.98L276.70 191.87L276.90 191.81L277.10 191.81L277.30 191.88L277.50 192.01L277.70 192.21L277.90 192.45L278.10 192.72L278.30 193.01L278.50 193.29L278.70 193.55L278.90 193.77L279.10 193.93L279.30 194.03L279.50 194.06L279.70 194.04L279.90 193.95L280.10 193.83L280.30 193.68L280.50 193.53L280.70 193.39L280.90 193.28L281.10 193.21L281.30 193.21L281.50 193.26L281.70 193.38L281.90 193.57L282.10 193.80L282.30 194.06L282.50 194.34L282.70 194.63L282.90 194.89L283.10 195.12L283.30 195.30L283.50 195.42L283.70 195.48L283.90 195.47L284.10 195.42L284.30 195.32L284.50 195.19L284.70 195.05L284.90 194.92L285.10 194.81L285.30 194.75L285.50 194.73L285.70 194.78L285.90 194.89L286.10 195.06L286.30 195.27L286.50 195.52L286.70 195.80L286.90 196.07L287.10 196.34L287.30 196.57L287.50 196.76L287.70 196.89L287.90 196.96L288.10 196.97L288.30 196.93L288.50 196.85L288.70 196.73L288.90 196.60L289.10 196.47L289.30 196.36L289.50 196.29L289.70 196.26L289.90 196.29L290.10 196.38L290.30 196.52L290.50 196.72L290.70 196.95L290.90 197.21L291.10 197.47L291.30 197.73L291.50 197.96L291.70 198.15L291.90 198.29L292.10 198.38L292.30 198.41L292.50 198.38L292.70 198.31L292.90 198.21L293.10 198.09L293.30 197.97L293.50 197.87L293.70 197.79L293.90 197.76L294.10 197.78L294.30 197.85L294.50 197.98L294.70 198.15L294.90 198.37L295.10 198.61L295.30 198.87L295.50 199.12L295.70 199.34L295.90 199.54L296.10 199.68L296.30 199.78L296.50 199.82L296.70 199.80L296.90 199.74L297.10 199.65L297.30 199.53L297.50 199.41L297.70 199.30L297.90 199.21L298.10 199.16L298.30 199.16L298.50 199.20L298.70 199.30L298.90 199.45L299.10 199.64L299.30 199.85L299.50 200.08L299.70 200.30L299.90 200.51L300.10 200.69L300.30 200.83L300.50 200.91L300.70 200.95L300.90 200.94L301.10 200.88L301.30 200.78L301.50 200.66L301.70 200.53L301.90 200.41L302.10 200.30L302.30 200.23L302.50 200.20L302.70 200.23L302.90 200.30L303.10 200.42L303.30 200.59L303.50 200.78L303.70 201.00L303.90 201.21L304.10 201.42L304.30 201.60L304.50 201.74L304.70 201.84L304.90 201.88L305.10 201.88L305.30 201.82L305.50 201.73L305.70 201.61L305.90 201.48L306.10 201.35L306.30 201.24L306.50 201.16L306.70 201.12L306.90 201.12L307.10 201.18L307.30 201.28L307.50 201.43L307.70 201.61L307.90 201.82L308.10 202.03L308.30 202.23L308.50 202.41L308.70 202.56L308.90 202.66L309.10 202.71L309.30 202.71L309.50 202.67L309.70 202.58L309.90 202.47L310.10 202.33L310.30 202.20L310.50 202.08L310.70 201.99L310.90 201.93L311.10 201.92L311.30 201.96L311.50 202.04L311.70 202.17L311.90 202.34L312.10 202.53L312.30 202.74L312.50 202.93L312.70 203.11L312.90 203.26L313.10 203.37L313.30 203.43L313.50 203.44L313.70 203.40L313.90 203.32L314.10 203.21L314.30 203.08L314.50 202.94L314.70 202.81L314.90 202.71L315.10 202.64L315.30 202.61L315.50 202.63L315.70 202.70L315.90 202.82L316.10 202.97L316.30 203.15L316.50 203.34L316.70 203.54L316.90 203.71L317.10 203.86L317.30 203.98L317.50 204.04L317.70 204.06L317.90 204.03L318.10 203.95L318.30 203.85L318.50 203.72L318.70 203.58L318.90 203.44L319.10 203.33L319.30 203.24L319.50 203.20L319.70 203.20L319.90 203.26L320.10 203.35L320.30 203.49L320.50 203.66L320.70 203.84L320.90 204.03L321.10 204.21L321.30 204.36L321.50 204.47L321.70 204.55L321.90 204.57L322.10 204.55L322.30 204.48L322.50 204.38L322.70 204.25L322.90 204.11L323.10 203.98L323.30 203.86L323.50 203.76L323.70 203.71L323.90 203.70L324.10 203.73L324.30 203.82L324.50 203.94L324.70 204.10L324.90 204.27L325.10 204.45L325.30 204.63L325.50 204.78L325.70 204.90L325.90 204.99L326.10 205.02L326.30 205.01L326.50 204.95L326.70 204.86L326.90 204.73L327.10 204.60L327.30 204.46L327.50 204.33L327.70 204.23L327.90 204.16L328.10 204.14L328.30 204.16L328.50 204.23L328.70 204.34L328.90 204.48L329.10 204.65L329.30 204.83L329.50 205.00L329.70 205.15L329.90 205.28L330.10 205.37L330.30 205.41L330.50 205.41L330.70 205.36L330.90 205.28L331.10 205.16L331.30 205.02L331.50 204.88L331.70 204.75L331.90 204.64L332.10 204.56L332.30 204.53L332.50 204.53L332.70 204.59L332.90 204.69L333.10 204.82L333.30 204.98L333.50 205.15L333.70 205.32L333.90 205.47L334.10 205.60L334.30 205.70L334.50 205.75L334.70 205.76L334.90 205.72L335.10 205.64L335.30 205.53L335.50 205.40L335.70 205.26L335.90 205.12L336.10 205.00L336.30 204.92L336.50 204.87L336.70 204.86L336.90 204.90L337.10 204.98L337.30 205.10L337.50 205.25L337.70 205.42L337.90 205.58L338.10 205.74L338.30 205.87L338.50 205.97L338.70 206.03L338.90 206.05L339.10 206.02L339.30 205.95L339.50 205.84L339.70 205.71L339.90 205.57L340.10 205.44L340.30 205.31L340.50 205.22L340.70 205.16L340.90 205.14L341.10 205.16L341.30 205.23L341.50 205.34L341.70 205.48L341.90 205.63L342.10 205.80L342.30 205.95L342.50 206.09L342.70 206.19L342.90 206.26L343.10 206.28L343.30 206.26L343.50 206.20L343.70 206.10L343.90 205.98L344.10 205.84L344.30 205.70L344.50 205.57L344.70 205.47L344.90 205.40L345.10 205.37L345.30 205.38L345.50 205.44L345.70 205.53L345.90 205.66L346.10 205.80L346.30 205.96L346.50 206.11L346.70 206.25L346.90 206.36L347.10 206.43L347.30 206.46L347.50 206.45L347.70 206.40L347.90 206.31L348.10 206.19L348.30 206.06" class="bl"/>
<path d="M182.50 221.44L182.85 215.61L183.20 221.06L183.55 214.13L183.90 222.25L184.25 214.15L184.60 222.99L184.95 218.84L185.30 221.01L185.65 216.14L186.00 222.24L186.35 218.36L186.70 222.36L187.05 216.95L187.40 221.74L187.75 215.78L188.10 220.51L188.45 217.83L188.80 221.44L189.15 214.76L189.50 222.46L189.85 214.03L190.20 221.47L190.55 218.05L190.90 222.91L191.25 216.09L191.60 221.83L191.95 214.07L192.30 221.43L192.65 217.97L193.00 221.76L193.35 217.63L193.70 222.97L194.05 214.99L194.40 221.27L194.75 214.90L195.10 222.08L195.45 218.74L195.80 220.92L196.15 215.70L196.50 222.33L196.85 218.76L197.20 221.73L197.55 218.90L197.90 221.40L198.25 216.61L198.60 222.77L198.95 217.71L199.30 221.73L199.65 216.13L200.00 222.10L200.35 216.06L200.70 222.85L201.05 214.34L201.40 222.19L201.75 216.60L202.10 220.96L202.45 215.25L202.80 220.55L203.15 217.38L203.50 221.49L203.85 217.15L204.20 221.31L204.55 215.66L204.90 221.90L205.25 215.01L205.60 221.99L205.95 215.06L206.30 220.58L206.65 218.20L207.00 221.32L207.35 217.02L207.70 220.81L208.05 216.97L208.40 222.67L208.75 215.53L209.10 220.64L209.45 216.33L209.80 221.58L210.15 217.18L210.50 222.52L210.85 214.31L211.20 221.62L211.55 217.82L211.90 220.79L212.25 217.65L212.60 221.58L212.95 218.57L213.30 221.97L213.65 218.39L214.00 222.90L214.35 218.58L214.70 221.83" class="bl"/>
<path d="M40.60 159.62L40.80 159.55L41.00 159.27L41.20 158.81L41.40 158.21L41.60 157.53L41.80 156.83L42.00 156.17L42.20 155.62L42.40 155.21L42.60 155.00L42.80 155.00L43.00 155.21L43.20 155.62L43.40 156.19L43.60 156.88L43.80 157.63L44.00 158.36L44.20 159.04L44.40 159.58L44.60 159.96L44.80 160.13L45.00 160.09L45.20 159.84L45.40 159.40L45.60 158.81L45.80 158.13L46.00 157.41L46.20 156.72L46.40 156.12L46.60 155.66L46.80 155.38L47.00 155.30L47.20 155.44L47.40 155.78L47.60 156.30L47.80 156.94L48.00 157.65L48.20 158.38L48.40 159.05L48.60 159.61L48.80 160.01L49.00 160.23L49.20 160.23L49.40 160.01L49.60 159.61L49.80 159.05L50.00 158.38L50.20 157.66L50.40 156.95L50.60 156.31L50.80 155.80L51.00 155.45L51.20 155.31L51.40 155.37L51.60 155.63L51.80 156.07L52.00 156.65L52.20 157.32L52.40 158.01L52.60 158.66L52.80 159.21L53.00 159.62L53.20 159.84L53.40 159.85L53.60 159.65L53.80 159.26L54.00 158.69L54.20 158.01L54.40 157.26L54.60 156.50L54.80 155.80L55.00 155.22L55.20 154.79L55.40 154.56L55.60 154.54L55.80 154.72L56.00 155.09L56.20 155.60L56.40 156.22L56.60 156.88L56.80 157.51L57.00 158.07L57.20 158.50L57.40 158.75L57.60 158.80L57.80 158.64L58.00 158.28L58.20 157.75L58.40 157.09L58.60 156.35L58.80 155.59L59.00 154.88L59.20 154.27L59.40 153.80L59.60 153.53L59.80 153.46L60.00 153.60L60.20 153.93L60.40 154.42L60.60 155.02L60.80 155.68L61.00 156.33L61.20 156.92L61.40 157.39L61.60 157.70L61.80 157.82L62.00 157.72L62.20 157.43L62.40 156.96L62.60 156.34L62.80 155.63L63.00 154.89L63.20 154.18L63.40 153.55L63.60 153.06L63.80 152.74L64.00 152.62L64.20 152.71L64.40 153.00L64.60 153.45L64.80 154.02L65.00 154.67L65.20 155.32L65.40 155.93L65.60 156.42L65.80 156.77L66.00 156.93L66.20 156.88L66.40 156.63L66.60 156.20L66.80 155.61L67.00 154.91L67.20 154.17L67.40 153.44L67.60 152.78L67.80 152.24L68.00 151.87L68.20 151.68L68.40 151.71L68.60 151.93L68.80 152.32L69.00 152.84L69.20 153.45L69.40 154.08L69.60 154.68L69.80 155.18L70.00 155.54L70.20 155.72L70.40 155.70L70.60 155.47L70.80 155.04L71.00 154.45L71.20 153.75L71.40 152.97L71.60 152.19L71.80 151.46L72.00 150.84L72.20 150.37L72.40 150.08L72.60 150.00L72.80 150.11L73.00 150.39L73.20 150.82L73.40 151.34L73.60 151.90L73.80 152.44L74.00 152.90L74.20 153.24L74.40 153.40L74.60 153.36L74.80 153.13L75.00 152.70L75.20 152.10L75.40 151.37L75.60 150.57L75.80 149.75L76.00 148.97L76.20 148.28L76.40 147.75L76.60 147.39L76.80 147.22L77.00 147.26L77.20 147.49L77.40 147.86L77.60 148.35L77.80 148.89L78.00 149.43L78.20 149.91L78.40 150.27L78.60 150.48L78.80 150.50L79.00 150.33L79.20 149.96L79.40 149.42L79.60 148.75L79.80 147.99L80.00 147.20L80.20 146.44L80.40 145.77L80.60 145.23L80.80 144.86L81.00 144.69L81.20 144.71L81.40 144.93L81.60 145.30L81.80 145.79L82.00 146.35L82.20 146.91L82.40 147.43L82.60 147.85L82.80 148.12L83.00 148.22L83.20 148.12L83.40 147.83L83.60 147.36L83.80 146.76L84.00 146.05L84.20 145.30L84.40 144.57L84.60 143.90L84.80 143.35L85.00 142.96L85.20 142.75L85.40 142.73L85.60 142.90L85.80 143.23L86.00 143.68L86.20 144.21L86.40 144.76L86.60 145.28L86.80 145.70L87.00 146.00L87.20 146.13L87.40 146.08L87.60 145.83L87.80 145.41L88.00 144.84L88.20 144.17L88.40 143.43L88.60 142.70L88.80 142.01L89.00 141.43L89.20 140.99L89.40 140.72L89.60 140.63L89.80 140.72L90.00 140.98L90.20 141.36L90.40 141.83L90.60 142.34L90.80 142.83L91.00 143.24L91.20 143.53L91.40 143.67L91.60 143.64L91.80 143.42L92.00 143.02L92.20 142.48L92.40 141.81L92.60 141.08L92.80 140.34L93.00 139.63L93.20 139.01L93.40 138.51L93.60 138.17L93.80 138.01L94.00 138.03L94.20 138.21L94.40 138.52L94.60 138.92L94.80 139.37L95.00 139.81L95.20 140.19L95.40 140.46L95.60 140.60L95.80 140.56L96.00 140.34L96.20 139.95L96.40 139.40L96.60 138.73L96.80 137.97L97.00 137.18L97.20 136.40L97.40 135.69L97.60 135.09L97.80 134.64L98.00 134.35L98.20 134.23L98.40 134.27L98.60 134.45L98.80 134.73L99.00 135.07L99.20 135.41L99.40 135.71L99.60 135.92L99.80 136.01L100.00 135.95L100.20 135.71L100.40 135.31L100.60 134.76L100.80 134.09L101.00 133.33L101.20 132.53L101.40 131.74L101.60 131.01L101.80 130.38L102.00 129.89L102.20 129.55L102.40 129.39L102.60 129.38L102.80 129.50L103.00 129.74L103.20 130.04L103.40 130.35L103.60 130.63L103.80 130.83L104.00 130.92L104.20 130.85L104.40 130.62L104.60 130.21L104.80 129.65L105.00 128.95L105.20 128.16L105.40 127.31L105.60 126.46L105.80 125.65L106.00 124.92L106.20 124.32L106.40 123.86L106.60 123.56L106.80 123.42L107.00 123.42L107.20 123.53L107.40 123.71L107.60 123.93L107.80 124.13L108.00 124.26L108.20 124.30L108.40 124.21L108.60 123.96L108.80 123.56L109.00 123.02L109.20 122.34L109.40 121.57L109.60 120.75L109.80 119.93L110.00 119.14L110.20 118.43L110.40 117.84L110.60 117.39L110.80 117.09L111.00 116.94L111.20 116.94L111.40 117.05L111.60 117.24L111.80 117.47L112.00 117.69L112.20 117.86L112.40 117.95L112.60 117.92L112.80 117.75L113.00 117.43L113.20 116.97L113.40 116.39L113.60 115.71L113.80 114.97L114.00 114.21L114.20 113.47L114.40 112.80L114.60 112.23L114.80 111.79L115.00 111.49L115.20 111.33L115.40 111.30L115.60 111.39L115.80 111.57L116.00 111.79L116.20 112.02L116.40 112.21L116.60 112.34L116.80 112.36L117.00 112.26L117.20 112.02L117.40 111.66L117.60 111.17L117.80 110.59L118.00 109.95L118.20 109.28L118.40 108.62L118.60 108.01L118.80 107.49L119.00 107.08L119.20 106.80L119.40 106.65L119.60 106.63L119.80 106.72L120.00 106.89L120.20 107.12L120.40 107.36L120.60 107.59L120.80 107.77L121.00 107.85L121.20 107.83L121.40 107.69L121.60 107.43L121.80 107.05L122.00 106.57L122.20 106.02L122.40 105.43L122.60 104.84L122.80 104.28L123.00 103.77L123.20 103.36L123.40 103.04L123.60 102.82L123.80 102.71L124.00 102.68L124.20 102.71L124.40 102.78L124.60 102.87L124.80 102.92L125.00 102.92L125.20 102.83L125.40 102.64L125.60 102.34L125.80 101.92L126.00 101.38L126.20 100.76L126.40 100.06L126.60 99.33L126.80 98.60L127.00 97.89L127.20 97.24L127.40 96.68L127.60 96.23L127.80 95.88L128.00 95.66L128.20 95.54L128.40 95.51L128.60 95.55L128.80 95.63L129.00 95.72L129.20 95.79L129.40 95.82L129.60 95.77L129.80 95.63L130.00 95.39L130.20 95.05L130.40 94.64L130.60 94.16L130.80 93.65L131.00 93.12L131.20 92.62L131.40 92.17L131.60 91.79L131.80 91.49L132.00 91.30L132.20 91.20L132.40 91.20L132.60 91.27L132.80 91.40L133.00 91.57L133.20 91.74L133.40 91.90L133.60 92.01L133.80 92.05L134.00 92.02L134.20 91.90L134.40 91.69L134.60 91.40L134.80 91.05L135.00 90.65L135.20 90.25L135.40 89.85L135.60 89.48L135.80 89.18L136.00 88.95L136.20 88.81L136.40 88.76L136.60 88.81L136.80 88.94L137.00 89.14L137.20 89.39L137.40 89.66L137.60 89.94L137.80 90.17L138.00 90.35L138.20 90.45L138.40 90.47L138.60 90.40L138.80 90.26L139.00 90.05L139.20 89.80L139.40 89.52L139.60 89.24L139.80 88.98L140.00 88.77L140.20 88.62L140.40 88.55L140.60 88.56L140.80 88.66L141.00 88.82L141.20 89.06L141.40 89.34L141.60 89.66L141.80 89.99L142.00 90.30L142.20 90.57L142.40 90.78L142.60 90.92L142.80 91.00L143.00 91.00L143.20 90.95L143.40 90.85L143.60 90.72L143.80 90.60L144.00 90.50L144.20 90.43L144.40 90.43L144.60 90.49L144.80 90.64L145.00 90.86L145.20 91.16L145.40 91.53L145.60 91.95L145.80 92.40L146.00 92.85L146.20 93.30L146.40 93.70L146.60 94.05L146.80 94.34L147.00 94.56L147.20 94.71L147.40 94.80L147.60 94.85L147.80 94.87L148.00 94.89L148.20 94.93L148.40 95.02L148.60 95.18L148.80 95.42L149.00 95.75L149.20 96.17L149.40 96.68L149.60 97.26L149.80 97.89L150.00 98.57L150.20 99.25L150.40 99.92L150.60 100.57L150.80 101.16L151.00 101.69L151.20 102.15L151.40 102.54L151.60 102.87L151.80 103.17L152.00 103.44L152.20 103.72L152.40 104.01L152.60 104.35L152.80 104.75L153.00 105.22L153.20 105.77L153.40 106.39L153.60 107.10L153.80 107.87L154.00 108.70L154.20 109.55L154.40 110.41L154.60 111.26L154.80 112.07L155.00 112.82L155.20 113.51L155.40 114.12L155.60 114.64L155.80 115.09L156.00 115.47L156.20 115.80L156.40 116.10L156.60 116.40L156.80 116.72L157.00 117.07L157.20 117.48L157.40 117.94L157.60 118.47L157.80 119.07L158.00 119.73L158.20 120.44L158.40 121.18L158.60 121.93L158.80 122.68L159.00 123.40L159.20 124.07L159.40 124.69L159.60 125.24L159.80 125.73L160.00 126.15L160.20 126.52L160.40 126.84L160.60 127.13L160.80 127.41L161.00 127.71L161.20 128.04L161.40 128.41L161.60 128.85L161.80 129.36L162.00 129.93L162.20 130.57L162.40 131.27L162.60 132.01L162.80 132.77L163.00 133.54L163.20 134.29L163.40 135.02L163.60 135.71L163.80 136.34L164.00 136.93L164.20 137.47L164.40 137.96L164.60 138.41L164.80 138.85L165.00 139.29L165.20 139.74L165.40 140.22L165.60 140.74L165.80 141.32L166.00 141.97L166.20 142.67L166.40 143.43L166.60 144.24L166.80 145.07L167.00 145.92L167.20 146.77L167.40 147.61L167.60 148.41L167.80 149.16L168.00 149.85L168.20 150.49L168.40 151.06L168.60 151.58L168.80 152.06L169.00 152.51L169.20 152.96L169.40 153.42L169.60 153.90L169.80 154.43L170.00 155.02L170.20 155.67L170.40 156.38L170.60 157.16L170.80 157.99L171.00 158.87L171.20 159.77L171.40 160.69L171.60 161.61L171.80 162.50L172.00 163.35L172.20 164.17L172.40 164.93L172.60 165.63L172.80 166.28L173.00 166.86L173.20 167.38L173.40 167.88L173.60 168.38L173.80 168.89L174.00 169.44L174.20 170.04L174.40 170.71L174.60 171.47L174.80 172.30L175.00 173.21L175.20 174.20L175.40 175.26L175.60 176.38L175.80 177.54L176.00 178.74L176.20 179.97L176.40 181.23L176.60 182.67L176.80 184.25L177.00 185.93L177.20 187.68L177.40 189.46L177.60 191.24L177.80 193.00L178.00 194.70L178.20 196.44L178.40 198.33L178.60 200.32L178.80 202.39L179.00 204.47L179.20 206.54L179.40 208.52L179.60 210.36L179.80 212.01L180.00 213.52L180.20 214.99L180.40 216.38L180.60 217.68L180.80 218.88L181.00 219.97L181.20 220.93L181.40 221.78L181.60 222.51L181.80 223.12L182.00 223.64L182.20 224.05" class="rd"/>
<path d="M214.50 224.30L214.70 223.17L214.90 222.04L215.10 220.89L215.30 219.71L215.50 218.51L215.70 217.28L215.90 216.01L216.10 214.72L216.30 213.40L216.50 212.07L216.70 210.75L216.90 209.43L217.10 208.13L217.30 206.86L217.50 205.62L217.70 204.41L217.90 203.23L218.10 202.09L218.30 200.96L218.50 199.85L218.70 198.74L218.90 197.63L219.10 196.49L219.30 195.33L219.50 194.15L219.70 192.93L219.90 191.68L220.10 190.41L220.30 189.12L220.50 187.81L220.70 186.51L220.90 185.19L221.10 183.88L221.30 182.59L221.50 181.32L221.70 180.10L221.90 178.93L222.10 177.80L222.30 176.74L222.50 175.73L222.70 174.76L222.90 173.81L223.10 172.88L223.30 171.96L223.50 171.04L223.70 170.12L223.90 169.19L224.10 168.24L224.30 167.29L224.50 166.33L224.70 165.37L224.90 164.43L225.10 163.50L225.30 162.59L225.50 161.70L225.70 160.84L225.90 160.00L226.10 159.19L226.30 158.41L226.50 157.63L226.70 156.87L226.90 156.11L227.10 155.35L227.30 154.60L227.50 153.84L227.70 153.08L227.90 152.32L228.10 151.56L228.30 150.79L228.50 150.03L228.70 149.26L228.90 148.49L229.10 147.72L229.30 146.95L229.50 146.18L229.70 145.43L229.90 144.69L230.10 143.97L230.30 143.27L230.50 142.59L230.70 141.94L230.90 141.33L231.10 140.74L231.30 140.18L231.50 139.62L231.70 139.05L231.90 138.46L232.10 137.83L232.30 137.15L232.50 136.41L232.70 135.57L232.90 134.60L233.10 133.55L233.30 132.48L233.50 131.43L233.70 130.46L233.90 129.63L234.10 128.97L234.30 128.40L234.50 127.91L234.70 127.48L234.90 127.13L235.10 126.84L235.30 126.59L235.50 126.38L235.70 126.18L235.90 125.99L236.10 125.78L236.30 125.54L236.50 125.26L236.70 124.91L236.90 124.51L237.10 124.07L237.30 123.59L237.50 123.08L237.70 122.54L237.90 121.98L238.10 121.42L238.30 120.85L238.50 120.30L238.70 119.76L238.90 119.22L239.10 118.69L239.30 118.17L239.50 117.66L239.70 117.18L239.90 116.71L240.10 116.26L240.30 115.82L240.50 115.40L240.70 115.00L240.90 114.61L241.10 114.23L241.30 113.86L241.50 113.47L241.70 113.08L241.90 112.69L242.10 112.29L242.30 111.90L242.50 111.53L242.70 111.17L242.90 110.84L243.10 110.53L243.30 110.23L243.50 109.96L243.70 109.69L243.90 109.43L244.10 109.16L244.30 108.87L244.50 108.57L244.70 108.25L244.90 107.89L245.10 107.50L245.30 107.08L245.50 106.62L245.70 106.14L245.90 105.60L246.10 105.02L246.30 104.43L246.50 103.83L246.70 103.24L246.90 102.70L247.10 102.20L247.30 101.76L247.50 101.41L247.70 101.11L247.90 100.87L248.10 100.67L248.30 100.51L248.50 100.38L248.70 100.25L248.90 100.12L249.10 99.97L249.30 99.79L249.50 99.58L249.70 99.32L249.90 99.02L250.10 98.67L250.30 98.29L250.50 97.87L250.70 97.42L250.90 96.95L251.10 96.43L251.30 95.89L251.50 95.35L251.70 94.84L251.90 94.36L252.10 93.95L252.30 93.60L252.50 93.34L252.70 93.17L252.90 93.06L253.10 92.96L253.30 92.86L253.50 92.75L253.70 92.63L253.90 92.47L254.10 92.29L254.30 92.07L254.50 91.82L254.70 91.55L254.90 91.27L255.10 90.97L255.30 90.67L255.50 90.37L255.70 90.09L255.90 89.84L256.10 89.63L256.30 89.47L256.50 89.36L256.70 89.30L256.90 89.29L257.10 89.32L257.30 89.39L257.50 89.49L257.70 89.57L257.90 89.62L258.10 89.63L258.30 89.61L258.50 89.55L258.70 89.45L258.90 89.34L259.10 89.22L259.30 89.09L259.50 88.97L259.70 88.87L259.90 88.80L260.10 88.77L260.30 88.77L260.50 88.81L260.70 88.88L260.90 89.00L261.10 89.15L261.30 89.33L261.50 89.52L261.70 89.72L261.90 89.90L262.10 90.06L262.30 90.20L262.50 90.30L262.70 90.37L262.90 90.42L263.10 90.43L263.30 90.43L263.50 90.42L263.70 90.42L263.90 90.44L264.10 90.50L264.30 90.60L264.50 90.74L264.70 90.92L264.90 91.14L265.10 91.39L265.30 91.67L265.50 91.96L265.70 92.25L265.90 92.52L266.10 92.78L266.30 93.00L266.50 93.18L266.70 93.33L266.90 93.44L267.10 93.52L267.30 93.59L267.50 93.65L267.70 93.71L267.90 93.79L268.10 93.90L268.30 94.05L268.50 94.29L268.70 94.59L268.90 94.97L269.10 95.41L269.30 95.90L269.50 96.42L269.70 96.95L269.90 97.49L270.10 98.00L270.30 98.48L270.50 98.90L270.70 99.26L270.90 99.58L271.10 99.86L271.30 100.09L271.50 100.30L271.70 100.48L271.90 100.64L272.10 100.80L272.30 100.97L272.50 101.16L272.70 101.38L272.90 101.64L273.10 101.93L273.30 102.26L273.50 102.62L273.70 103.01L273.90 103.41L274.10 103.82L274.30 104.22L274.50 104.61L274.70 104.96L274.90 105.28L275.10 105.57L275.30 105.81L275.50 106.01L275.70 106.19L275.90 106.34L276.10 106.47L276.30 106.60L276.50 106.75L276.70 106.91L276.90 107.10L277.10 107.32L277.30 107.59L277.50 107.89L277.70 108.22L277.90 108.58L278.10 108.96L278.30 109.35L278.50 109.74L278.70 110.11L278.90 110.46L279.10 110.77L279.30 111.05L279.50 111.29L279.70 111.49L279.90 111.66L280.10 111.81L280.30 111.93L280.50 112.06L280.70 112.19L280.90 112.34L281.10 112.52L281.30 112.73L281.50 112.98L281.70 113.27L281.90 113.59L282.10 113.95L282.30 114.32L282.50 114.71L282.70 115.10L282.90 115.47L283.10 115.82L283.30 116.14L283.50 116.43L283.70 116.67L283.90 116.87L284.10 117.04L284.30 117.18L284.50 117.30L284.70 117.41L284.90 117.52L285.10 117.65L285.30 117.80L285.50 117.98L285.70 118.20L285.90 118.45L286.10 118.74L286.30 119.06L286.50 119.40L286.70 119.75L286.90 120.11L287.10 120.45L287.30 120.77L287.50 121.06L287.70 121.32L287.90 121.53L288.10 121.71L288.30 121.84L288.50 121.95L288.70 122.04L288.90 122.12L289.10 122.20L289.30 122.30L289.50 122.42L289.70 122.57L289.90 122.76L290.10 123.00L290.30 123.27L290.50 123.57L290.70 123.91L290.90 124.26L291.10 124.61L291.30 124.97L291.50 125.30L291.70 125.61L291.90 125.88L292.10 126.12L292.30 126.32L292.50 126.48L292.70 126.60L292.90 126.71L293.10 126.80L293.30 126.89L293.50 126.99L293.70 127.11L293.90 127.26L294.10 127.45L294.30 127.68L294.50 127.94L294.70 128.24L294.90 128.57L295.10 128.92L295.30 129.28L295.50 129.64L295.70 129.98L295.90 130.29L296.10 130.58L296.30 130.82L296.50 131.02L296.70 131.19L296.90 131.32L297.10 131.42L297.30 131.51L297.50 131.59L297.70 131.68L297.90 131.79L298.10 131.92L298.30 132.09L298.50 132.30L298.70 132.55L298.90 132.84L299.10 133.16L299.30 133.50L299.50 133.85L299.70 134.21L299.90 134.55L300.10 134.87L300.30 135.16L300.50 135.42L300.70 135.64L300.90 135.81L301.10 135.96L301.30 136.08L301.50 136.18L301.70 136.27L301.90 136.36L302.10 136.47L302.30 136.61L302.50 136.77L302.70 136.98L302.90 137.22L303.10 137.49L303.30 137.80L303.50 138.13L303.70 138.47L303.90 138.80L304.10 139.13L304.30 139.43L304.50 139.71L304.70 139.94L304.90 140.14L305.10 140.30L305.30 140.41L305.50 140.50L305.70 140.56L305.90 140.61L306.10 140.67L306.30 140.73L306.50 140.81L306.70 140.93L306.90 141.08L307.10 141.27L307.30 141.50L307.50 141.76L307.70 142.05L307.90 142.35L308.10 142.65L308.30 142.95L308.50 143.23L308.70 143.47L308.90 143.68L309.10 143.84L309.30 143.96L309.50 144.04L309.70 144.08L309.90 144.09L310.10 144.08L310.30 144.07L310.50 144.08L310.70 144.10L310.90 144.15L311.10 144.23L311.30 144.36L311.50 144.52L311.70 144.72L311.90 144.95L312.10 145.20L312.30 145.46L312.50 145.71L312.70 145.95L312.90 146.16L313.10 146.33L313.30 146.46L313.50 146.56L313.70 146.61L313.90 146.62L314.10 146.61L314.30 146.58L314.50 146.55L314.70 146.52L314.90 146.50L315.10 146.52L315.30 146.57L315.50 146.66L315.70 146.79L315.90 146.96L316.10 147.16L316.30 147.38L316.50 147.62L316.70 147.85L316.90 148.07L317.10 148.26L317.30 148.42L317.50 148.54L317.70 148.62L317.90 148.66L318.10 148.66L318.30 148.63L318.50 148.59L318.70 148.53L318.90 148.47L319.10 148.44L319.30 148.42L319.50 148.44L319.70 148.50L319.90 148.61L320.10 148.75L320.30 148.92L320.50 149.12L320.70 149.33L320.90 149.54L321.10 149.74L321.30 149.93L321.50 150.08L321.70 150.19L321.90 150.26L322.10 150.29L322.30 150.28L322.50 150.24L322.70 150.17L322.90 150.09L323.10 150.02L323.30 149.96L323.50 149.92L323.70 149.91L323.90 149.94L324.10 150.02L324.30 150.13L324.50 150.28L324.70 150.46L324.90 150.65L325.10 150.85L325.30 151.05L325.50 151.22L325.70 151.37L325.90 151.48L326.10 151.55L326.30 151.58L326.50 151.57L326.70 151.52L326.90 151.45L327.10 151.37L327.30 151.29L327.50 151.21L327.70 151.16L327.90 151.14L328.10 151.16L328.30 151.22L328.50 151.32L328.70 151.46L328.90 151.63L329.10 151.82L329.30 152.03L329.50 152.22L329.70 152.41L329.90 152.57L330.10 152.69L330.30 152.78L330.50 152.82L330.70 152.83L330.90 152.80L331.10 152.74L331.30 152.66L331.50 152.58L331.70 152.51L331.90 152.46L332.10 152.44L332.30 152.46L332.50 152.51L332.70 152.61L332.90 152.75L333.10 152.93L333.30 153.12L333.50 153.33L333.70 153.54L333.90 153.73L334.10 153.91L334.30 154.05L334.50 154.15L334.70 154.20L334.90 154.22L335.10 154.20L335.30 154.14L335.50 154.07L335.70 153.99L335.90 153.91L336.10 153.85L336.30 153.82L336.50 153.82L336.70 153.86L336.90 153.94L337.10 154.06L337.30 154.22L337.50 154.40L337.70 154.60L337.90 154.80L338.10 154.99L338.30 155.16L338.50 155.29L338.70 155.39L338.90 155.44L339.10 155.45L339.30 155.42L339.50 155.35L339.70 155.26L339.90 155.16L340.10 155.06L340.30 154.97L340.50 154.91L340.70 154.88L340.90 154.89L341.10 154.94L341.30 155.04L341.50 155.17L341.70 155.33L341.90 155.51L342.10 155.69L342.30 155.87L342.50 156.03L342.70 156.16L342.90 156.25L343.10 156.30L343.30 156.30L343.50 156.27L343.70 156.20L343.90 156.10L344.10 155.99L344.30 155.88L344.50 155.78L344.70 155.70L344.90 155.65L345.10 155.64L345.30 155.67L345.50 155.74L345.70 155.86L345.90 156.00L346.10 156.16L346.30 156.34L346.50 156.51L346.70 156.66L346.90 156.79L347.10 156.88L347.30 156.92L347.50 156.93L347.70 156.89L347.90 156.81" class="rd"/>
<path d="M40.60 207.80L40.80 208.03L41.00 208.24L41.20 208.42L41.40 208.54L41.60 208.59L41.80 208.58L42.00 208.49L42.20 208.35L42.40 208.16L42.60 207.94L42.80 207.71L43.00 207.49L43.20 207.29L43.40 207.14L43.60 207.04L43.80 207.01L44.00 207.05L44.20 207.15L44.40 207.31L44.60 207.51L44.80 207.74L45.00 207.97L45.20 208.18L45.40 208.36L45.60 208.49L45.80 208.56L46.00 208.56L46.20 208.50L46.40 208.37L46.60 208.20L46.80 207.99L47.00 207.76L47.20 207.53L47.40 207.33L47.60 207.17L47.80 207.06L48.00 207.01L48.20 207.04L48.40 207.12L48.60 207.26L48.80 207.45L49.00 207.67L49.20 207.89L49.40 208.11L49.60 208.29L49.80 208.43L50.00 208.51L50.20 208.53L50.40 208.49L50.60 208.38L50.80 208.22L51.00 208.02L51.20 207.80L51.40 207.57L51.60 207.37L51.80 207.20L52.00 207.07L52.20 207.01L52.40 207.02L52.60 207.09L52.80 207.21L53.00 207.38L53.20 207.59L53.40 207.81L53.60 208.02L53.80 208.21L54.00 208.36L54.20 208.46L54.40 208.49L54.60 208.46L54.80 208.37L55.00 208.22L55.20 208.03L55.40 207.82L55.60 207.60L55.80 207.39L56.00 207.22L56.20 207.08L56.40 207.01L56.60 207.00L56.80 207.05L57.00 207.16L57.20 207.32L57.40 207.51L57.60 207.72L57.80 207.93L58.00 208.13L58.20 208.28L58.40 208.39L58.60 208.44L58.80 208.43L59.00 208.35L59.20 208.22L59.40 208.04L59.60 207.84L59.80 207.62L60.00 207.41L60.20 207.23L60.40 207.09L60.60 207.00L60.80 206.97L61.00 207.00L61.20 207.09L61.40 207.23L61.60 207.41L61.80 207.61L62.00 207.81L62.20 208.00L62.40 208.16L62.60 208.27L62.80 208.32L63.00 208.32L63.20 208.25L63.40 208.12L63.60 207.95L63.80 207.75L64.00 207.53L64.20 207.31L64.40 207.11L64.60 206.95L64.80 206.83L65.00 206.78L65.20 206.78L65.40 206.85L65.60 206.96L65.80 207.12L66.00 207.30L66.20 207.49L66.40 207.67L66.60 207.82L66.80 207.94L67.00 207.99L67.20 207.99L67.40 207.93L67.60 207.81L67.80 207.65L68.00 207.44L68.20 207.22L68.40 207.00L68.60 206.79L68.80 206.61L69.00 206.48L69.20 206.40L69.40 206.39L69.60 206.43L69.80 206.52L70.00 206.66L70.20 206.82L70.40 207.00L70.60 207.17L70.80 207.32L71.00 207.44L71.20 207.50L71.40 207.51L71.60 207.45L71.80 207.35L72.00 207.19L72.20 206.99L72.40 206.77L72.60 206.54L72.80 206.33L73.00 206.14L73.20 205.99L73.40 205.90L73.60 205.86L73.80 205.88L74.00 205.96L74.20 206.07L74.40 206.22L74.60 206.39L74.80 206.56L75.00 206.71L75.20 206.82L75.40 206.90L75.60 206.91L75.80 206.87L76.00 206.78L76.20 206.63L76.40 206.44L76.60 206.23L76.80 206.00L77.00 205.78L77.20 205.59L77.40 205.43L77.60 205.32L77.80 205.27L78.00 205.27L78.20 205.33L78.40 205.43L78.60 205.57L78.80 205.73L79.00 205.89L79.20 206.04L79.40 206.16L79.60 206.24L79.80 206.27L80.00 206.24L80.20 206.16L80.40 206.03L80.60 205.85L80.80 205.64L81.00 205.41L81.20 205.19L81.40 204.99L81.60 204.82L81.80 204.69L82.00 204.61L82.20 204.59L82.40 204.62L82.60 204.70L82.80 204.82L83.00 204.95L83.20 205.10L83.40 205.24L83.60 205.35L83.80 205.42L84.00 205.45L84.20 205.42L84.40 205.33L84.60 205.20L84.80 205.01L85.00 204.80L85.20 204.57L85.40 204.34L85.60 204.12L85.80 203.93L86.00 203.78L86.20 203.69L86.40 203.64L86.60 203.65L86.80 203.71L87.00 203.80L87.20 203.93L87.40 204.06L87.60 204.19L87.80 204.30L88.00 204.38L88.20 204.41L88.40 204.39L88.60 204.32L88.80 204.20L89.00 204.03L89.20 203.83L89.40 203.61L89.60 203.38L89.80 203.16L90.00 202.97L90.20 202.82L90.40 202.71L90.60 202.66L90.80 202.66L91.00 202.70L91.20 202.79L91.40 202.91L91.60 203.04L91.80 203.17L92.00 203.29L92.20 203.37L92.40 203.42L92.60 203.41L92.80 203.36L93.00 203.25L93.20 203.10L93.40 202.91L93.60 202.70L93.80 202.48L94.00 202.26L94.20 202.07L94.40 201.90L94.60 201.79L94.80 201.72L95.00 201.70L95.20 201.74L95.40 201.81L95.60 201.92L95.80 202.04L96.00 202.17L96.20 202.28L96.40 202.37L96.60 202.43L96.80 202.43L97.00 202.39L97.20 202.29L97.40 202.15L97.60 201.97L97.80 201.77L98.00 201.55L98.20 201.34L98.40 201.14L98.60 200.97L98.80 200.84L99.00 200.76L99.20 200.73L99.40 200.75L99.60 200.81L99.80 200.90L100.00 201.02L100.20 201.14L100.40 201.25L100.60 201.34L100.80 201.40L101.00 201.41L101.20 201.38L101.40 201.30L101.60 201.17L101.80 201.00L102.00 200.80L102.20 200.59L102.40 200.37L102.60 200.17L102.80 199.99L103.00 199.85L103.20 199.76L103.40 199.71L103.60 199.72L103.80 199.76L104.00 199.84L104.20 199.95L104.40 200.06L104.60 200.17L104.80 200.26L105.00 200.33L105.20 200.35L105.40 200.32L105.60 200.25L105.80 200.13L106.00 199.97L106.20 199.78L106.40 199.58L106.60 199.36L106.80 199.16L107.00 198.98L107.20 198.83L107.40 198.73L107.60 198.67L107.80 198.66L108.00 198.69L108.20 198.76L108.40 198.85L108.60 198.96L108.80 199.06L109.00 199.16L109.20 199.22L109.40 199.25L109.60 199.24L109.80 199.18L110.00 199.07L110.20 198.93L110.40 198.75L110.60 198.55L110.80 198.34L111.00 198.14L111.20 197.95L111.40 197.80L111.60 197.69L111.80 197.62L112.00 197.59L112.20 197.61L112.40 197.67L112.60 197.76L112.80 197.86L113.00 197.97L113.20 198.06L113.40 198.13L113.60 198.17L113.80 198.17L114.00 198.12L114.20 198.03L114.40 197.89L114.60 197.72L114.80 197.53L115.00 197.33L115.20 197.13L115.40 196.94L115.60 196.79L115.80 196.66L116.00 196.58L116.20 196.54L116.40 196.55L116.60 196.59L116.80 196.67L117.00 196.76L117.20 196.86L117.40 196.95L117.60 197.02L117.80 197.06L118.00 197.06L118.20 197.02L118.40 196.93L118.60 196.80L118.80 196.64L119.00 196.45L119.20 196.25L119.40 196.05L119.60 195.85L119.80 195.68L120.00 195.54L120.20 195.44L120.40 195.39L120.60 195.37L120.80 195.39L121.00 195.44L121.20 195.52L121.40 195.60L121.60 195.67L121.80 195.73L122.00 195.77L122.20 195.76L122.40 195.72L122.60 195.63L122.80 195.50L123.00 195.33L123.20 195.13L123.40 194.92L123.60 194.70L123.80 194.49L124.00 194.30L124.20 194.14L124.40 194.02L124.60 193.94L124.80 193.90L125.00 193.90L125.20 193.94L125.40 193.99L125.60 194.06L125.80 194.13L126.00 194.19L126.20 194.23L126.40 194.23L126.60 194.19L126.80 194.11L127.00 193.99L127.20 193.83L127.40 193.65L127.60 193.44L127.80 193.23L128.00 193.03L128.20 192.84L128.40 192.68L128.60 192.55L128.80 192.47L129.00 192.43L129.20 192.44L129.40 192.47L129.60 192.54L129.80 192.62L130.00 192.71L130.20 192.78L130.40 192.84L130.60 192.86L130.80 192.84L131.00 192.78L131.20 192.68L131.40 192.53L131.60 192.36L131.80 192.16L132.00 191.96L132.20 191.75L132.40 191.56L132.60 191.40L132.80 191.27L133.00 191.18L133.20 191.13L133.40 191.12L133.60 191.15L133.80 191.21L134.00 191.29L134.20 191.38L134.40 191.46L134.60 191.53L134.80 191.57L135.00 191.58L135.20 191.56L135.40 191.49L135.60 191.39L135.80 191.26L136.00 191.11L136.20 190.96L136.40 190.80L136.60 190.66L136.80 190.55L137.00 190.47L137.20 190.43L137.40 190.44L137.60 190.48L137.80 190.56L138.00 190.67L138.20 190.80L138.40 190.94L138.60 191.08L138.80 191.20L139.00 191.30L139.20 191.36L139.40 191.39L139.60 191.37L139.80 191.32L140.00 191.23L140.20 191.12L140.40 190.99L140.60 190.86L140.80 190.73L141.00 190.63L141.20 190.55L141.40 190.51L141.60 190.51L141.80 190.55L142.00 190.62L142.20 190.73L142.40 190.86L142.60 191.00L142.80 191.15L143.00 191.28L143.20 191.38L143.40 191.46L143.60 191.50L143.80 191.50L144.00 191.46L144.20 191.39L144.40 191.29L144.60 191.17L144.80 191.04L145.00 190.92L145.20 190.81L145.40 190.74L145.60 190.71L145.80 190.71L146.00 190.77L146.20 190.86L146.40 190.99L146.60 191.15L146.80 191.32L147.00 191.50L147.20 191.68L147.40 191.84L147.60 191.98L147.80 192.08L148.00 192.14L148.20 192.18L148.40 192.17L148.60 192.14L148.80 192.10L149.00 192.04L149.20 191.99L149.40 191.95L149.60 191.94L149.80 191.97L150.00 192.03L150.20 192.13L150.40 192.28L150.60 192.45L150.80 192.66L151.00 192.88L151.20 193.11L151.40 193.34L151.60 193.55L151.80 193.73L152.00 193.89L152.20 194.00L152.40 194.08L152.60 194.12L152.80 194.13L153.00 194.11L153.20 194.09L153.40 194.06L153.60 194.05L153.80 194.05L154.00 194.08L154.20 194.15L154.40 194.26L154.60 194.40L154.80 194.58L155.00 194.78L155.20 195.00L155.40 195.24L155.60 195.47L155.80 195.70L156.00 195.90L156.20 196.07L156.40 196.21L156.60 196.31L156.80 196.38L157.00 196.42L157.20 196.43L157.40 196.43L157.60 196.43L157.80 196.44L158.00 196.47L158.20 196.53L158.40 196.62L158.60 196.75L158.80 196.93L159.00 197.13L159.20 197.37L159.40 197.63L159.60 197.90L159.80 198.18L160.00 198.44L160.20 198.68L160.40 198.90L160.60 199.08L160.80 199.22L161.00 199.33L161.20 199.40L161.40 199.45L161.60 199.48L161.80 199.51L162.00 199.54L162.20 199.59L162.40 199.66L162.60 199.76L162.80 199.90L163.00 200.07L163.20 200.28L163.40 200.52L163.60 200.79L163.80 201.06L164.00 201.34L164.20 201.61L164.40 201.86L164.60 202.08L164.80 202.27L165.00 202.42L165.20 202.54L165.40 202.62L165.60 202.67L165.80 202.70L166.00 202.72L166.20 202.74L166.40 202.78L166.60 202.84L166.80 202.93L167.00 203.05L167.20 203.21L167.40 203.40L167.60 203.63L167.80 203.88L168.00 204.15L168.20 204.43L168.40 204.70L168.60 204.95L168.80 205.18L169.00 205.38L169.20 205.55L169.40 205.68L169.60 205.78L169.80 205.85L170.00 205.91L170.20 205.95L170.40 205.99L170.60 206.05L170.80 206.12L171.00 206.23L171.20 206.37L171.40 206.55L171.60 206.76L171.80 207.01L172.00 207.29L172.20 207.59L172.40 207.90L172.60 208.20L172.80 208.50L173.00 208.77L173.20 209.01L173.40 209.22L173.60 209.40L173.80 209.54L174.00 209.66L174.20 209.76L174.40 209.84L174.60 209.93L174.80 210.03L175.00 210.15L175.20 210.31L175.40 210.50L175.60 210.73L175.80 211.00L176.00 211.31L176.20 211.66L176.40 212.03L176.60 212.43L176.80 212.83L177.00 213.23L177.20 213.62L177.40 214.00L177.60 214.36L177.80 214.70L178.00 215.02L178.20 215.33L178.40 215.62L178.60 215.91L178.80 216.21L179.00 216.52L179.20 216.86L179.40 217.23L179.60 217.64L179.80 218.10L180.00 218.60L180.20 219.15L180.40 219.73L180.60 220.35L180.80 220.99L181.00 221.63L181.20 222.28L181.40 222.92L181.60 223.54L181.80 224.13L182.00 224.70" class="rd"/>
<path d="M214.70 224.30L214.90 223.96L215.10 223.61L215.30 223.25L215.50 222.87L215.70 222.47L215.90 222.05L216.10 221.60L216.30 221.14L216.50 220.65L216.70 220.16L216.90 219.67L217.10 219.18L217.30 218.69L217.50 218.22L217.70 217.77L217.90 217.34L218.10 216.93L218.30 216.56L218.50 216.21L218.70 215.89L218.90 215.58L219.10 215.29L219.30 215.00L219.50 214.72L219.70 214.43L219.90 214.15L220.10 213.85L220.30 213.54L220.50 213.21L220.70 212.87L220.90 212.51L221.10 212.16L221.30 211.81L221.50 211.48L221.70 211.17L221.90 210.88L222.10 210.63L222.30 210.40L222.50 210.20L222.70 210.04L222.90 209.89L223.10 209.76L223.30 209.64L223.50 209.52L223.70 209.39L223.90 209.25L224.10 209.10L224.30 208.92L224.50 208.72L224.70 208.50L224.90 208.26L225.10 208.01L225.30 207.76L225.50 207.51L225.70 207.27L225.90 207.05L226.10 206.85L226.30 206.68L226.50 206.53L226.70 206.42L226.90 206.33L227.10 206.26L227.30 206.21L227.50 206.16L227.70 206.12L227.90 206.07L228.10 206.00L228.30 205.91L228.50 205.80L228.70 205.67L228.90 205.51L229.10 205.33L229.30 205.14L229.50 204.93L229.70 204.72L229.90 204.52L230.10 204.33L230.30 204.16L230.50 204.01L230.70 203.89L230.90 203.79L231.10 203.72L231.30 203.66L231.50 203.62L231.70 203.58L231.90 203.55L232.10 203.51L232.30 203.45L232.50 203.37L232.70 203.27L232.90 203.14L233.10 202.99L233.30 202.82L233.50 202.63L233.70 202.43L233.90 202.22L234.10 202.02L234.30 201.82L234.50 201.65L234.70 201.50L234.90 201.37L235.10 201.27L235.30 201.19L235.50 201.14L235.70 201.10L235.90 201.07L236.10 201.04L236.30 201.01L236.50 200.97L236.70 200.90L236.90 200.82L237.10 200.70L237.30 200.56L237.50 200.40L237.70 200.22L237.90 200.02L238.10 199.82L238.30 199.61L238.50 199.42L238.70 199.24L238.90 199.08L239.10 198.94L239.30 198.83L239.50 198.74L239.70 198.68L239.90 198.63L240.10 198.59L240.30 198.56L240.50 198.52L240.70 198.46L240.90 198.39L241.10 198.29L241.30 198.17L241.50 198.02L241.70 197.84L241.90 197.64L242.10 197.43L242.30 197.20L242.50 196.98L242.70 196.76L242.90 196.55L243.10 196.36L243.30 196.20L243.50 196.06L243.70 195.94L243.90 195.85L244.10 195.78L244.30 195.72L244.50 195.67L244.70 195.62L244.90 195.56L245.10 195.48L245.30 195.38L245.50 195.26L245.70 195.11L245.90 194.94L246.10 194.75L246.30 194.55L246.50 194.33L246.70 194.11L246.90 193.90L247.10 193.71L247.30 193.53L247.50 193.38L247.70 193.26L247.90 193.16L248.10 193.10L248.30 193.05L248.50 193.02L248.70 193.01L248.90 192.99L249.10 192.97L249.30 192.94L249.50 192.89L249.70 192.83L249.90 192.74L250.10 192.62L250.30 192.49L250.50 192.33L250.70 192.17L250.90 192.00L251.10 191.84L251.30 191.68L251.50 191.55L251.70 191.44L251.90 191.35L252.10 191.29L252.30 191.26L252.50 191.25L252.70 191.26L252.90 191.29L253.10 191.31L253.30 191.33L253.50 191.35L253.70 191.34L253.90 191.32L254.10 191.27L254.30 191.20L254.50 191.11L254.70 191.01L254.90 190.89L255.10 190.77L255.30 190.66L255.50 190.55L255.70 190.46L255.90 190.38L256.10 190.34L256.30 190.32L256.50 190.32L256.70 190.35L256.90 190.40L257.10 190.46L257.30 190.52L257.50 190.58L257.70 190.64L257.90 190.67L258.10 190.68L258.30 190.68L258.50 190.64L258.70 190.59L258.90 190.51L259.10 190.42L259.30 190.32L259.50 190.23L259.70 190.14L259.90 190.07L260.10 190.03L260.30 190.01L260.50 190.01L260.70 190.05L260.90 190.11L261.10 190.19L261.30 190.28L261.50 190.39L261.70 190.49L261.90 190.59L262.10 190.67L262.30 190.73L262.50 190.77L262.70 190.78L262.90 190.77L263.10 190.73L263.30 190.69L263.50 190.63L263.70 190.57L263.90 190.51L264.10 190.47L264.30 190.44L264.50 190.44L264.70 190.46L264.90 190.51L265.10 190.58L265.30 190.67L265.50 190.78L265.70 190.90L265.90 191.02L266.10 191.13L266.30 191.23L266.50 191.31L266.70 191.37L266.90 191.40L267.10 191.41L267.30 191.39L267.50 191.36L267.70 191.32L267.90 191.27L268.10 191.23L268.30 191.20L268.50 191.18L268.70 191.19L268.90 191.23L269.10 191.29L269.30 191.38L269.50 191.49L269.70 191.61L269.90 191.75L270.10 191.89L270.30 192.03L270.50 192.16L270.70 192.27L270.90 192.36L271.10 192.43L271.30 192.48L271.50 192.50L271.70 192.51L271.90 192.50L272.10 192.49L272.30 192.49L272.50 192.49L272.70 192.51L272.90 192.56L273.10 192.63L273.30 192.73L273.50 192.85L273.70 193.00L273.90 193.16L274.10 193.34L274.30 193.52L274.50 193.70L274.70 193.87L274.90 194.02L275.10 194.15L275.30 194.26L275.50 194.34L275.70 194.39L275.90 194.43L276.10 194.44L276.30 194.45L276.50 194.46L276.70 194.48L276.90 194.50L277.10 194.55L277.30 194.62L277.50 194.71L277.70 194.83L277.90 194.96L278.10 195.12L278.30 195.29L278.50 195.46L278.70 195.63L278.90 195.79L279.10 195.92L279.30 196.04L279.50 196.13L279.70 196.19L279.90 196.22L280.10 196.23L280.30 196.22L280.50 196.19L280.70 196.17L280.90 196.15L281.10 196.14L281.30 196.15L281.50 196.17L281.70 196.23L281.90 196.31L282.10 196.41L282.30 196.53L282.50 196.67L282.70 196.81L282.90 196.96L283.10 197.09L283.30 197.21L283.50 197.31L283.70 197.38L283.90 197.43L284.10 197.45L284.30 197.45L284.50 197.43L284.70 197.40L284.90 197.36L285.10 197.33L285.30 197.31L285.50 197.30L285.70 197.31L285.90 197.35L286.10 197.42L286.30 197.51L286.50 197.62L286.70 197.74L286.90 197.88L287.10 198.02L287.30 198.15L287.50 198.27L287.70 198.37L287.90 198.45L288.10 198.50L288.30 198.53L288.50 198.53L288.70 198.52L288.90 198.49L289.10 198.45L289.30 198.42L289.50 198.39L289.70 198.38L289.90 198.39L290.10 198.43L290.30 198.49L290.50 198.58L290.70 198.69L290.90 198.82L291.10 198.96L291.30 199.10L291.50 199.24L291.70 199.37L291.90 199.49L292.10 199.58L292.30 199.64L292.50 199.68L292.70 199.70L292.90 199.69L293.10 199.67L293.30 199.64L293.50 199.61L293.70 199.59L293.90 199.58L294.10 199.59L294.30 199.62L294.50 199.68L294.70 199.76L294.90 199.87L295.10 200.00L295.30 200.13L295.50 200.28L295.70 200.42L295.90 200.55L296.10 200.67L296.30 200.76L296.50 200.83L296.70 200.88L296.90 200.89L297.10 200.89L297.30 200.87L297.50 200.83L297.70 200.80L297.90 200.76L298.10 200.74L298.30 200.74L298.50 200.76L298.70 200.80L298.90 200.87L299.10 200.96L299.30 201.08L299.50 201.20L299.70 201.33L299.90 201.47L300.10 201.59L300.30 201.70L300.50 201.79L300.70 201.85L300.90 201.89L301.10 201.90L301.30 201.89L301.50 201.86L301.70 201.82L301.90 201.77L302.10 201.73L302.30 201.70L302.50 201.68L302.70 201.68L302.90 201.71L303.10 201.77L303.30 201.85L303.50 201.95L303.70 202.07L303.90 202.19L304.10 202.32L304.30 202.45L304.50 202.55L304.70 202.64L304.90 202.71L305.10 202.75L305.30 202.77L305.50 202.76L305.70 202.73L305.90 202.69L306.10 202.64L306.30 202.59L306.50 202.55L306.70 202.52L306.90 202.52L307.10 202.54L307.30 202.59L307.50 202.66L307.70 202.75L307.90 202.86L308.10 202.98L308.30 203.11L308.50 203.23L308.70 203.34L308.90 203.43L309.10 203.50L309.30 203.54L309.50 203.56L309.70 203.55L309.90 203.52L310.10 203.48L310.30 203.43L310.50 203.38L310.70 203.33L310.90 203.30L311.10 203.28L311.30 203.29L311.50 203.33L311.70 203.39L311.90 203.47L312.10 203.58L312.30 203.69L312.50 203.81L312.70 203.93L312.90 204.04L313.10 204.13L313.30 204.21L313.50 204.25L313.70 204.27L313.90 204.27L314.10 204.24L314.30 204.20L314.50 204.14L314.70 204.09L314.90 204.03L315.10 203.99L315.30 203.97L315.50 203.97L315.70 204.00L315.90 204.05L316.10 204.12L316.30 204.22L316.50 204.33L316.70 204.44L316.90 204.56L317.10 204.67L317.30 204.76L317.50 204.84L317.70 204.88L317.90 204.91L318.10 204.91L318.30 204.88L318.50 204.84L318.70 204.78L318.90 204.72L319.10 204.66L319.30 204.61L319.50 204.58L319.70 204.57L319.90 204.59L320.10 204.63L320.30 204.69L320.50 204.78L320.70 204.88L320.90 205.00L321.10 205.11L321.30 205.22L321.50 205.31L321.70 205.39L321.90 205.44L322.10 205.47L322.30 205.47L322.50 205.45L322.70 205.40L322.90 205.35L323.10 205.29L323.30 205.22L323.50 205.17L323.70 205.13L323.90 205.11L324.10 205.12L324.30 205.15L324.50 205.21L324.70 205.29L324.90 205.39L325.10 205.50L325.30 205.61L325.50 205.72L325.70 205.81L325.90 205.89L326.10 205.95L326.30 205.98L326.50 205.99L326.70 205.97L326.90 205.93L327.10 205.87L327.30 205.81L327.50 205.74L327.70 205.68L327.90 205.64L328.10 205.61L328.30 205.61L328.50 205.64L328.70 205.68L328.90 205.76L329.10 205.85L329.30 205.95L329.50 206.06L329.70 206.17L329.90 206.27L330.10 206.35L330.30 206.41L330.50 206.45L330.70 206.46L330.90 206.44L331.10 206.40L331.30 206.35L331.50 206.28L331.70 206.21L331.90 206.15L332.10 206.10L332.30 206.07L332.50 206.06L332.70 206.07L332.90 206.11L333.10 206.18L333.30 206.26L333.50 206.36L333.70 206.47L333.90 206.57L334.10 206.67L334.30 206.76L334.50 206.82L334.70 206.86L334.90 206.87L335.10 206.86L335.30 206.82L335.50 206.77L335.70 206.71L335.90 206.63L336.10 206.57L336.30 206.51L336.50 206.47L336.70 206.45L336.90 206.45L337.10 206.49L337.30 206.54L337.50 206.62L337.70 206.71L337.90 206.82L338.10 206.92L338.30 207.02L338.50 207.10L338.70 207.17L338.90 207.21L339.10 207.23L339.30 207.22L339.50 207.19L339.70 207.14L339.90 207.07L340.10 207.00L340.30 206.92L340.50 206.86L340.70 206.81L340.90 206.78L341.10 206.78L341.30 206.80L341.50 206.85L341.70 206.92L341.90 207.01L342.10 207.10L342.30 207.21L342.50 207.30L342.70 207.39L342.90 207.46L343.10 207.50L343.30 207.52L343.50 207.52L343.70 207.49L343.90 207.44L344.10 207.37L344.30 207.30L344.50 207.22L344.70 207.15L344.90 207.10L345.10 207.06L345.30 207.05L345.50 207.06L345.70 207.10L345.90 207.16L346.10 207.24L346.30 207.33L346.50 207.43L346.70 207.53L346.90 207.62L347.10 207.69L347.30 207.74L347.50 207.76L347.70 207.76L347.90 207.73L348.10 207.68L348.30 207.62" class="rd"/>
<path d="M182.20 224.03L182.80 224.16L183.40 224.28L184.00 223.24L184.60 223.69L185.20 223.96L185.80 223.79L186.40 223.06L187.00 223.45L187.60 223.43L188.20 224.17L188.80 223.81L189.40 223.60L190.00 223.55L190.60 223.47L191.20 223.89L191.80 222.94L192.40 223.18L193.00 223.52L193.60 223.86L194.20 223.51L194.80 222.61L195.40 222.96L196.00 223.27L196.60 222.78L197.20 223.56L197.80 223.39L198.40 224.29L199.00 223.54L199.60 222.82L200.20 222.40L200.80 224.07L201.40 224.26L202.00 224.08L202.60 224.27L203.20 223.53L203.80 222.94L204.40 224.15L205.00 223.43L205.60 222.82L206.20 223.84L206.80 224.24L207.40 223.93L208.00 223.41L208.60 223.71L209.20 223.40L209.80 223.50L210.40 224.12L211.00 223.60L211.60 223.98L212.20 223.99L212.80 222.48L213.40 223.05L214.00 223.50" class="rd"/>
</g>
<rect x="299.5" y="26" width="54.5" height="30" fill="#fff"/>
<line x1="303.6" y1="36.1" x2="321.4" y2="36.1" stroke="#3c3cff" stroke-width="1.3"/>
<line x1="303.6" y1="47.5" x2="321.4" y2="47.5" stroke="#ff3a3a" stroke-width="1.1" stroke-dasharray="2 1.3"/>
<path d="M40.10 20.40H360.90V225.70H40.10Z" class="ax"/>
<path d="M104.26 225.70v-3.5M104.26 20.40v3.5" class="ax"/>
<path d="M168.42 225.70v-3.5M168.42 20.40v3.5" class="ax"/>
<path d="M232.58 225.70v-3.5M232.58 20.40v3.5" class="ax"/>
<path d="M296.74 225.70v-3.5M296.74 20.40v3.5" class="ax"/>
<path d="M40.10 181.97h3.5M360.90 181.97h-3.5" class="ax"/>
<path d="M40.10 138.25h3.5M360.90 138.25h-3.5" class="ax"/>
<path d="M40.10 94.52h3.5M360.90 94.52h-3.5" class="ax"/>
<path d="M40.10 50.80h3.5M360.90 50.80h-3.5" class="ax"/>
<line x1="478.90" y1="19.40" x2="478.90" y2="225.60" class="grid"/>
<line x1="538.60" y1="19.40" x2="538.60" y2="225.60" class="grid"/>
<line x1="598.30" y1="19.40" x2="598.30" y2="225.60" class="grid"/>
<line x1="658.00" y1="19.40" x2="658.00" y2="225.60" class="grid"/>
<line x1="419.20" y1="174.05" x2="717.70" y2="174.05" class="grid"/>
<line x1="419.20" y1="122.50" x2="717.70" y2="122.50" class="grid"/>
<line x1="419.20" y1="70.95" x2="717.70" y2="70.95" class="grid"/>
<g clip-path="url(#cr)">
<rect x="420.00" y="178.58" width="1" height="47.02" fill="#1c1cff"/><rect x="421.00" y="181.51" width="1" height="44.09" fill="#b4b4ff"/><rect x="422.00" y="184.48" width="1" height="41.12" fill="#b4b4ff"/><rect x="423.00" y="187.47" width="1" height="38.13" fill="#b4b4ff"/><rect x="424.00" y="179.42" width="1" height="46.18" fill="#1c1cff"/><rect x="425.00" y="182.34" width="1" height="43.26" fill="#5050ff"/><rect x="426.00" y="185.30" width="1" height="40.30" fill="#b4b4ff"/><rect x="427.00" y="188.29" width="1" height="37.31" fill="#8c8cff"/><rect x="428.00" y="191.31" width="1" height="34.29" fill="#b4b4ff"/><rect x="429.00" y="184.31" width="1" height="41.29" fill="#1c1cff"/><rect x="430.00" y="187.18" width="1" height="38.42" fill="#8c8cff"/><rect x="431.00" y="190.08" width="1" height="35.52" fill="#b4b4ff"/><rect x="432.00" y="193.01" width="1" height="32.59" fill="#b4b4ff"/><rect x="433.00" y="185.80" width="1" height="39.80" fill="#1c1cff"/><rect x="434.00" y="188.60" width="1" height="37.00" fill="#8c8cff"/><rect x="435.00" y="191.44" width="1" height="34.16" fill="#5050ff"/><rect x="436.00" y="194.30" width="1" height="31.30" fill="#b4b4ff"/><rect x="437.00" y="187.48" width="1" height="38.12" fill="#1c1cff"/><rect x="438.00" y="190.21" width="1" height="35.39" fill="#8c8cff"/><rect x="439.00" y="192.96" width="1" height="32.64" fill="#8c8cff"/><rect x="440.00" y="195.75" width="1" height="29.85" fill="#8c8cff"/><rect x="441.00" y="188.88" width="1" height="36.72" fill="#1c1cff"/><rect x="442.00" y="191.54" width="1" height="34.06" fill="#8c8cff"/><rect x="443.00" y="194.23" width="1" height="31.37" fill="#8c8cff"/><rect x="444.00" y="196.95" width="1" height="28.65" fill="#8c8cff"/><rect x="445.00" y="190.48" width="1" height="35.12" fill="#1c1cff"/><rect x="446.00" y="193.06" width="1" height="32.54" fill="#5050ff"/><rect x="447.00" y="195.67" width="1" height="29.93" fill="#8c8cff"/><rect x="448.00" y="198.30" width="1" height="27.30" fill="#5050ff"/><rect x="449.00" y="191.71" width="1" height="33.89" fill="#1c1cff"/><rect x="450.00" y="194.23" width="1" height="31.37" fill="#b4b4ff"/><rect x="451.00" y="196.78" width="1" height="28.82" fill="#5050ff"/><rect x="452.00" y="199.35" width="1" height="26.25" fill="#8c8cff"/><rect x="453.00" y="192.83" width="1" height="32.77" fill="#1c1cff"/><rect x="454.00" y="195.30" width="1" height="30.30" fill="#8c8cff"/><rect x="455.00" y="197.91" width="1" height="27.69" fill="#b4b4ff"/><rect x="456.00" y="200.80" width="1" height="24.80" fill="#8c8cff"/><rect x="457.00" y="194.14" width="1" height="31.46" fill="#1c1cff"/><rect x="458.00" y="196.90" width="1" height="28.70" fill="#8c8cff"/><rect x="459.00" y="199.87" width="1" height="25.73" fill="#b4b4ff"/><rect x="460.00" y="203.04" width="1" height="22.56" fill="#b4b4ff"/><rect x="461.00" y="193.70" width="1" height="31.90" fill="#1c1cff"/><rect x="462.00" y="196.89" width="1" height="28.71" fill="#8c8cff"/><rect x="463.00" y="200.30" width="1" height="25.30" fill="#8c8cff"/><rect x="464.00" y="203.91" width="1" height="21.69" fill="#5050ff"/><rect x="465.00" y="192.72" width="1" height="32.88" fill="#1c1cff"/><rect x="466.00" y="196.41" width="1" height="29.19" fill="#8c8cff"/><rect x="467.00" y="200.31" width="1" height="25.29" fill="#b4b4ff"/><rect x="468.00" y="204.43" width="1" height="21.17" fill="#8c8cff"/><rect x="469.00" y="208.76" width="1" height="16.84" fill="#b4b4ff"/><rect x="470.00" y="196.83" width="1" height="28.77" fill="#1c1cff"/><rect x="471.00" y="200.82" width="1" height="24.78" fill="#8c8cff"/><rect x="472.00" y="204.82" width="1" height="20.78" fill="#b4b4ff"/><rect x="473.00" y="208.82" width="1" height="16.78" fill="#8c8cff"/><rect x="474.00" y="197.12" width="1" height="28.48" fill="#1c1cff"/><rect x="475.00" y="201.02" width="1" height="24.58" fill="#b4b4ff"/><rect x="476.00" y="204.92" width="1" height="20.68" fill="#b4b4ff"/><rect x="477.00" y="208.82" width="1" height="16.78" fill="#8c8cff"/><rect x="478.00" y="197.47" width="1" height="28.13" fill="#1c1cff"/><rect x="479.00" y="201.27" width="1" height="24.33" fill="#8c8cff"/><rect x="480.00" y="205.07" width="1" height="20.53" fill="#b4b4ff"/><rect x="481.00" y="208.88" width="1" height="16.72" fill="#b4b4ff"/><rect x="482.00" y="196.89" width="1" height="28.71" fill="#1c1cff"/><rect x="483.00" y="200.72" width="1" height="24.88" fill="#8c8cff"/><rect x="484.00" y="204.55" width="1" height="21.05" fill="#b4b4ff"/><rect x="485.00" y="208.37" width="1" height="17.23" fill="#8c8cff"/><rect x="486.00" y="197.86" width="1" height="27.74" fill="#1c1cff"/><rect x="487.00" y="201.51" width="1" height="24.09" fill="#5050ff"/><rect x="488.00" y="205.16" width="1" height="20.44" fill="#8c8cff"/><rect x="489.00" y="208.81" width="1" height="16.79" fill="#b4b4ff"/><rect x="490.00" y="198.62" width="1" height="26.98" fill="#1c1cff"/><rect x="491.00" y="202.12" width="1" height="23.48" fill="#b4b4ff"/><rect x="492.00" y="205.63" width="1" height="19.97" fill="#b4b4ff"/><rect x="493.00" y="209.13" width="1" height="16.47" fill="#8c8cff"/><rect x="494.00" y="198.50" width="1" height="27.10" fill="#1c1cff"/><rect x="495.00" y="201.97" width="1" height="23.63" fill="#b4b4ff"/><rect x="496.00" y="205.45" width="1" height="20.15" fill="#b4b4ff"/><rect x="497.00" y="208.92" width="1" height="16.68" fill="#8c8cff"/><rect x="498.00" y="197.99" width="1" height="27.61" fill="#1c1cff"/><rect x="499.00" y="201.48" width="1" height="24.12" fill="#8c8cff"/><rect x="500.00" y="204.98" width="1" height="20.62" fill="#5050ff"/><rect x="501.00" y="208.47" width="1" height="17.13" fill="#b4b4ff"/><rect x="502.00" y="200.62" width="1" height="24.98" fill="#1c1cff"/><rect x="503.00" y="203.74" width="1" height="21.86" fill="#8c8cff"/><rect x="504.00" y="206.87" width="1" height="18.73" fill="#b4b4ff"/><rect x="505.00" y="209.99" width="1" height="15.61" fill="#8c8cff"/><rect x="506.00" y="204.47" width="1" height="21.13" fill="#1c1cff"/><rect x="507.00" y="207.08" width="1" height="18.52" fill="#8c8cff"/><rect x="508.00" y="209.68" width="1" height="15.92" fill="#5050ff"/><rect x="509.00" y="212.29" width="1" height="13.31" fill="#8c8cff"/><rect x="510.00" y="206.75" width="1" height="18.85" fill="#8c8cff"/><rect x="511.00" y="209.05" width="1" height="16.55" fill="#1c1cff"/><rect x="512.00" y="211.35" width="1" height="14.25" fill="#8c8cff"/><rect x="513.00" y="213.65" width="1" height="11.95" fill="#8c8cff"/><rect x="514.00" y="215.95" width="1" height="9.65" fill="#8c8cff"/><rect x="515.00" y="206.37" width="1" height="19.23" fill="#1c1cff"/><rect x="516.00" y="209.00" width="1" height="16.60" fill="#8c8cff"/><rect x="517.00" y="211.64" width="1" height="13.96" fill="#8c8cff"/><rect x="518.00" y="214.27" width="1" height="11.33" fill="#8c8cff"/><rect x="519.00" y="197.91" width="1" height="27.69" fill="#1c1cff"/><rect x="520.00" y="201.66" width="1" height="23.94" fill="#8c8cff"/><rect x="521.00" y="205.40" width="1" height="20.20" fill="#8c8cff"/><rect x="522.00" y="209.14" width="1" height="16.46" fill="#b4b4ff"/><rect x="523.00" y="198.34" width="1" height="27.26" fill="#1c1cff"/><rect x="524.00" y="201.98" width="1" height="23.62" fill="#5050ff"/><rect x="525.00" y="205.61" width="1" height="19.99" fill="#8c8cff"/><rect x="526.00" y="209.25" width="1" height="16.35" fill="#b4b4ff"/><rect x="527.00" y="196.35" width="1" height="29.25" fill="#1c1cff"/><rect x="528.00" y="200.20" width="1" height="25.40" fill="#b4b4ff"/><rect x="529.00" y="204.05" width="1" height="21.55" fill="#8c8cff"/><rect x="530.00" y="207.90" width="1" height="17.70" fill="#8c8cff"/><rect x="531.00" y="197.05" width="1" height="28.55" fill="#1c1cff"/><rect x="532.00" y="200.76" width="1" height="24.84" fill="#5050ff"/><rect x="533.00" y="204.47" width="1" height="21.13" fill="#8c8cff"/><rect x="534.00" y="208.18" width="1" height="17.42" fill="#b4b4ff"/><rect x="535.00" y="188.51" width="1" height="37.09" fill="#1c1cff"/><rect x="536.00" y="193.27" width="1" height="32.33" fill="#8c8cff"/><rect x="537.00" y="198.02" width="1" height="27.58" fill="#b4b4ff"/><rect x="538.00" y="202.78" width="1" height="22.82" fill="#5050ff"/><rect x="539.00" y="188.36" width="1" height="37.24" fill="#1c1cff"/><rect x="540.00" y="193.07" width="1" height="32.53" fill="#5050ff"/><rect x="541.00" y="171.09" width="1" height="54.51" fill="#3030ff"/><rect x="542.00" y="168.54" width="1" height="57.06" fill="#a8a8ff"/><rect x="543.00" y="159.60" width="1" height="66.00" fill="#3030ff"/><rect x="544.00" y="169.69" width="1" height="55.91" fill="#a8a8ff"/><rect x="545.00" y="163.01" width="1" height="62.59" fill="#6a6aff"/><rect x="546.00" y="159.45" width="1" height="66.15" fill="#ffffff"/><rect x="547.00" y="158.53" width="1" height="67.07" fill="#3030ff"/><rect x="548.00" y="150.11" width="1" height="75.49" fill="#a8a8ff"/><rect x="549.00" y="160.68" width="1" height="64.92" fill="#3030ff"/><rect x="550.00" y="154.83" width="1" height="70.77" fill="#ffffff"/><rect x="551.00" y="152.44" width="1" height="73.16" fill="#6a6aff"/><rect x="552.00" y="151.46" width="1" height="74.14" fill="#a8a8ff"/><rect x="553.00" y="149.30" width="1" height="76.30" fill="#ffffff"/><rect x="554.00" y="147.86" width="1" height="77.74" fill="#3030ff"/><rect x="555.00" y="139.69" width="1" height="85.91" fill="#a8a8ff"/><rect x="556.00" y="150.17" width="1" height="75.43" fill="#3030ff"/><rect x="557.00" y="146.81" width="1" height="78.79" fill="#a8a8ff"/><rect x="558.00" y="145.12" width="1" height="80.48" fill="#3030ff"/><rect x="559.00" y="144.81" width="1" height="80.79" fill="#a8a8ff"/><rect x="560.00" y="149.67" width="1" height="75.93" fill="#3030ff"/><rect x="561.00" y="141.13" width="1" height="84.47" fill="#a8a8ff"/><rect x="562.00" y="154.18" width="1" height="71.42" fill="#3030ff"/><rect x="563.00" y="145.52" width="1" height="80.08" fill="#ffffff"/><rect x="564.00" y="155.96" width="1" height="69.64" fill="#6a6aff"/><rect x="565.00" y="145.34" width="1" height="80.26" fill="#ffffff"/><rect x="566.00" y="149.04" width="1" height="76.56" fill="#3030ff"/><rect x="567.00" y="161.47" width="1" height="64.13" fill="#ffffff"/><rect x="568.00" y="151.61" width="1" height="73.99" fill="#3030ff"/><rect x="569.00" y="157.28" width="1" height="68.32" fill="#a8a8ff"/><rect x="570.00" y="156.37" width="1" height="69.23" fill="#3030ff"/><rect x="571.00" y="155.50" width="1" height="70.10" fill="#a8a8ff"/><rect x="572.00" y="162.08" width="1" height="63.52" fill="#3030ff"/><rect x="573.00" y="164.54" width="1" height="61.06" fill="#ffffff"/><rect x="574.00" y="165.73" width="1" height="59.87" fill="#3030ff"/><rect x="575.00" y="168.67" width="1" height="56.93" fill="#ffffff"/><rect x="576.00" y="163.36" width="1" height="62.24" fill="#3030ff"/><rect x="577.00" y="164.39" width="1" height="61.21" fill="#ffffff"/><rect x="578.00" y="159.46" width="1" height="66.14" fill="#3030ff"/><rect x="579.00" y="161.93" width="1" height="63.67" fill="#ffffff"/><rect x="580.00" y="162.32" width="1" height="63.28" fill="#3030ff"/><rect x="581.00" y="158.14" width="1" height="67.46" fill="#a8a8ff"/><rect x="582.00" y="151.46" width="1" height="74.14" fill="#3030ff"/><rect x="583.00" y="148.72" width="1" height="76.88" fill="#a8a8ff"/><rect x="584.00" y="147.09" width="1" height="78.51" fill="#3030ff"/><rect x="585.00" y="157.07" width="1" height="68.53" fill="#ffffff"/><rect x="586.00" y="161.56" width="1" height="64.04" fill="#6a6aff"/><rect x="587.00" y="155.41" width="1" height="70.19" fill="#a8a8ff"/><rect x="588.00" y="156.55" width="1" height="69.05" fill="#3030ff"/><rect x="589.00" y="160.82" width="1" height="64.78" fill="#a8a8ff"/><rect x="590.00" y="172.03" width="1" height="53.57" fill="#3030ff"/><rect x="591.00" y="174.69" width="1" height="50.91" fill="#a8a8ff"/><rect x="592.00" y="170.66" width="1" height="54.94" fill="#6a6aff"/><rect x="593.00" y="182.49" width="1" height="43.11" fill="#ffffff"/><rect x="594.00" y="189.01" width="1" height="36.59" fill="#ffffff"/><rect x="595.00" y="177.76" width="1" height="47.84" fill="#3030ff"/><rect x="596.00" y="190.79" width="1" height="34.81" fill="#ffffff"/><rect x="597.00" y="190.83" width="1" height="34.77" fill="#3030ff"/><rect x="598.00" y="180.26" width="1" height="45.34" fill="#a8a8ff"/><rect x="599.00" y="192.63" width="1" height="32.97" fill="#3030ff"/><rect x="600.00" y="201.56" width="1" height="24.04" fill="#b4b4ff"/><rect x="601.00" y="193.44" width="1" height="32.16" fill="#1c1cff"/><rect x="602.00" y="197.78" width="1" height="27.82" fill="#b4b4ff"/><rect x="603.00" y="202.13" width="1" height="23.47" fill="#5050ff"/><rect x="604.00" y="206.48" width="1" height="19.12" fill="#8c8cff"/><rect x="605.00" y="200.30" width="1" height="25.30" fill="#1c1cff"/><rect x="606.00" y="203.68" width="1" height="21.92" fill="#b4b4ff"/><rect x="607.00" y="207.05" width="1" height="18.55" fill="#8c8cff"/><rect x="608.00" y="210.42" width="1" height="15.18" fill="#b4b4ff"/><rect x="609.00" y="203.12" width="1" height="22.48" fill="#1c1cff"/><rect x="610.00" y="206.08" width="1" height="19.52" fill="#5050ff"/><rect x="611.00" y="209.03" width="1" height="16.57" fill="#5050ff"/><rect x="612.00" y="211.99" width="1" height="13.61" fill="#8c8cff"/><rect x="613.00" y="205.43" width="1" height="20.17" fill="#1c1cff"/><rect x="614.00" y="208.05" width="1" height="17.55" fill="#8c8cff"/><rect x="615.00" y="210.67" width="1" height="14.93" fill="#5050ff"/><rect x="616.00" y="213.29" width="1" height="12.31" fill="#5050ff"/><rect x="617.00" y="211.71" width="1" height="13.89" fill="#1c1cff"/><rect x="618.00" y="213.49" width="1" height="12.11" fill="#8c8cff"/><rect x="619.00" y="215.27" width="1" height="10.33" fill="#5050ff"/><rect x="620.00" y="217.05" width="1" height="8.55" fill="#8c8cff"/><rect x="621.00" y="218.83" width="1" height="6.77" fill="#1c1cff"/>
<path d="M551.30 225.60V58.80M550.50 225.60V77.40M552.60 225.60V90.40M582.00 225.60V106.00M586.40 225.60V99.70M590.80 225.60V102.60M543.10 225.60V150.80M547.30 225.60V156.40M555.50 225.60V140.20" stroke="#3434ff" stroke-width="0.9" fill="none"/>
<path d="M621.25 225.60L622.50 220.40L623.75 225.60ZM625.35 225.60L626.60 217.01L627.85 225.60ZM629.45 225.60L630.70 214.08L631.95 225.60ZM633.55 225.60L634.80 211.89L636.05 225.60ZM637.65 225.60L638.90 213.81L640.15 225.60ZM641.75 225.60L643.00 216.09L644.25 225.60ZM645.85 225.60L647.10 216.74L648.35 225.60ZM649.95 225.60L651.20 216.96L652.45 225.60ZM654.05 225.60L655.30 217.55L656.55 225.60ZM658.15 225.60L659.40 218.41L660.65 225.60ZM662.25 225.60L663.50 218.88L664.75 225.60ZM666.35 225.60L667.60 220.32L668.85 225.60ZM670.45 225.60L671.70 221.43L672.95 225.60ZM674.55 225.60L675.80 221.87L677.05 225.60ZM678.65 225.60L679.90 222.68L681.15 225.60ZM682.75 225.60L684.00 221.85L685.25 225.60ZM686.85 225.60L688.10 222.79L689.35 225.60ZM690.95 225.60L692.20 222.79L693.45 225.60ZM695.05 225.60L696.30 223.18L697.55 225.60ZM699.15 225.60L700.40 223.07L701.65 225.60ZM703.25 225.60L704.50 224.11L705.75 225.60Z" fill="#b8b8ff"/>
<path d="M621.25 225.60L622.50 220.40L623.75 225.60M625.35 225.60L626.60 217.01L627.85 225.60M629.45 225.60L630.70 214.08L631.95 225.60M633.55 225.60L634.80 211.89L636.05 225.60M637.65 225.60L638.90 213.81L640.15 225.60M641.75 225.60L643.00 216.09L644.25 225.60M645.85 225.60L647.10 216.74L648.35 225.60M649.95 225.60L651.20 216.96L652.45 225.60M654.05 225.60L655.30 217.55L656.55 225.60M658.15 225.60L659.40 218.41L660.65 225.60M662.25 225.60L663.50 218.88L664.75 225.60M666.35 225.60L667.60 220.32L668.85 225.60M670.45 225.60L671.70 221.43L672.95 225.60M674.55 225.60L675.80 221.87L677.05 225.60M678.65 225.60L679.90 222.68L681.15 225.60M682.75 225.60L684.00 221.85L685.25 225.60M686.85 225.60L688.10 222.79L689.35 225.60M690.95 225.60L692.20 222.79L693.45 225.60M695.05 225.60L696.30 223.18L697.55 225.60M699.15 225.60L700.40 223.07L701.65 225.60M703.25 225.60L704.50 224.11L705.75 225.60" stroke="#2a2aff" stroke-width="0.8" fill="none"/>
<rect x="420.00" y="208.67" width="1" height="16.93" fill="#ff8080"/><rect x="420.00" y="218.71" width="1" height="6.89" fill="#85104f"/><rect x="421.00" y="208.69" width="1" height="16.91" fill="#85104f"/><rect x="421.00" y="222.13" width="1" height="3.47" fill="#ff2020"/><rect x="422.00" y="206.68" width="1" height="18.92" fill="#85104f"/><rect x="422.00" y="216.74" width="1" height="8.86" fill="#ff8080"/><rect x="423.00" y="209.73" width="1" height="15.87" fill="#ff2020"/><rect x="423.00" y="220.77" width="1" height="4.83" fill="#ff2020"/><rect x="424.00" y="206.82" width="1" height="18.78" fill="#ff2020"/><rect x="424.00" y="220.33" width="1" height="5.27" fill="#85104f"/><rect x="425.00" y="210.13" width="1" height="15.47" fill="#ff2020"/><rect x="425.00" y="216.62" width="1" height="8.98" fill="#ff8080"/><rect x="426.00" y="209.60" width="1" height="16.00" fill="#85104f"/><rect x="426.00" y="223.27" width="1" height="2.33" fill="#85104f"/><rect x="427.00" y="208.11" width="1" height="17.49" fill="#ff2020"/><rect x="427.00" y="220.16" width="1" height="5.44" fill="#85104f"/><rect x="428.00" y="208.13" width="1" height="17.47" fill="#ff2020"/><rect x="428.00" y="216.66" width="1" height="8.94" fill="#ff2020"/><rect x="429.00" y="206.13" width="1" height="19.47" fill="#ff2020"/><rect x="429.00" y="221.15" width="1" height="4.45" fill="#ff2020"/><rect x="430.00" y="206.11" width="1" height="19.49" fill="#ff2020"/><rect x="430.00" y="217.73" width="1" height="7.87" fill="#ffffff"/><rect x="431.00" y="206.43" width="1" height="19.17" fill="#ff2020"/><rect x="431.00" y="218.59" width="1" height="7.01" fill="#85104f"/><rect x="432.00" y="207.87" width="1" height="17.73" fill="#ff2020"/><rect x="432.00" y="220.50" width="1" height="5.10" fill="#ff2020"/><rect x="433.00" y="211.56" width="1" height="14.04" fill="#85104f"/><rect x="433.00" y="222.95" width="1" height="2.65" fill="#ff2020"/><rect x="434.00" y="210.03" width="1" height="15.57" fill="#ff2020"/><rect x="434.00" y="223.39" width="1" height="2.21" fill="#4030ff"/><rect x="435.00" y="209.57" width="1" height="16.03" fill="#ff2020"/><rect x="435.00" y="216.95" width="1" height="8.65" fill="#ff2020"/><rect x="436.00" y="210.66" width="1" height="14.94" fill="#ffffff"/><rect x="436.00" y="215.20" width="1" height="10.40" fill="#85104f"/><rect x="437.00" y="211.54" width="1" height="14.06" fill="#ff2020"/><rect x="437.00" y="223.45" width="1" height="2.15" fill="#ff2020"/><rect x="438.00" y="211.97" width="1" height="13.63" fill="#ff2020"/><rect x="438.00" y="217.79" width="1" height="7.81" fill="#ff2020"/><rect x="439.00" y="211.36" width="1" height="14.24" fill="#4030ff"/><rect x="439.00" y="220.61" width="1" height="4.99" fill="#ff2020"/><rect x="440.00" y="211.79" width="1" height="13.81" fill="#ff8080"/><rect x="440.00" y="217.47" width="1" height="8.13" fill="#85104f"/><rect x="441.00" y="209.09" width="1" height="16.51" fill="#ff2020"/><rect x="441.00" y="221.35" width="1" height="4.25" fill="#85104f"/><rect x="442.00" y="207.43" width="1" height="18.17" fill="#ff8080"/><rect x="442.00" y="217.86" width="1" height="7.74" fill="#85104f"/><rect x="443.00" y="212.32" width="1" height="13.28" fill="#ff8080"/><rect x="443.00" y="223.15" width="1" height="2.45" fill="#ff2020"/><rect x="444.00" y="208.91" width="1" height="16.69" fill="#ff8080"/><rect x="444.00" y="216.59" width="1" height="9.01" fill="#85104f"/><rect x="445.00" y="211.60" width="1" height="14.00" fill="#ff2020"/><rect x="445.00" y="216.04" width="1" height="9.56" fill="#ffffff"/><rect x="446.00" y="211.32" width="1" height="14.28" fill="#ff8080"/><rect x="446.00" y="220.14" width="1" height="5.46" fill="#ff2020"/><rect x="447.00" y="210.06" width="1" height="15.54" fill="#ff2020"/><rect x="447.00" y="219.80" width="1" height="5.80" fill="#ff2020"/><rect x="448.00" y="209.08" width="1" height="16.52" fill="#85104f"/><rect x="448.00" y="216.00" width="1" height="9.60" fill="#ff8080"/><rect x="449.00" y="211.13" width="1" height="14.47" fill="#ff2020"/><rect x="449.00" y="215.41" width="1" height="10.19" fill="#85104f"/><rect x="450.00" y="212.29" width="1" height="13.31" fill="#ff2020"/><rect x="450.00" y="215.00" width="1" height="10.60" fill="#85104f"/><rect x="451.00" y="212.56" width="1" height="13.04" fill="#85104f"/><rect x="451.00" y="219.36" width="1" height="6.24" fill="#85104f"/><rect x="452.00" y="208.18" width="1" height="17.42" fill="#4030ff"/><rect x="452.00" y="222.73" width="1" height="2.87" fill="#ff2020"/><rect x="453.00" y="210.93" width="1" height="14.67" fill="#ff8080"/><rect x="453.00" y="218.36" width="1" height="7.24" fill="#ff8080"/><rect x="454.00" y="210.17" width="1" height="15.43" fill="#ff2020"/><rect x="454.00" y="216.69" width="1" height="8.91" fill="#ff2020"/><rect x="455.00" y="209.63" width="1" height="15.97" fill="#ff2020"/><rect x="455.00" y="219.75" width="1" height="5.85" fill="#ffffff"/><rect x="456.00" y="210.48" width="1" height="15.12" fill="#ff2020"/><rect x="456.00" y="220.14" width="1" height="5.46" fill="#85104f"/><rect x="457.00" y="212.88" width="1" height="12.72" fill="#ff2020"/><rect x="457.00" y="223.71" width="1" height="1.89" fill="#85104f"/><rect x="458.00" y="211.37" width="1" height="14.23" fill="#85104f"/><rect x="458.00" y="221.33" width="1" height="4.27" fill="#85104f"/><rect x="459.00" y="212.43" width="1" height="13.17" fill="#4030ff"/><rect x="459.00" y="215.66" width="1" height="9.94" fill="#85104f"/><rect x="460.00" y="211.14" width="1" height="14.46" fill="#ff8080"/><rect x="460.00" y="221.44" width="1" height="4.16" fill="#ff8080"/><rect x="461.00" y="212.15" width="1" height="13.45" fill="#ff8080"/><rect x="461.00" y="221.11" width="1" height="4.49" fill="#85104f"/><rect x="462.00" y="209.34" width="1" height="16.26" fill="#ff2020"/><rect x="462.00" y="217.24" width="1" height="8.36" fill="#85104f"/><rect x="463.00" y="212.05" width="1" height="13.55" fill="#85104f"/><rect x="463.00" y="223.39" width="1" height="2.21" fill="#ff2020"/><rect x="464.00" y="211.11" width="1" height="14.49" fill="#ff2020"/><rect x="464.00" y="218.56" width="1" height="7.04" fill="#ffffff"/><rect x="465.00" y="209.69" width="1" height="15.91" fill="#ffffff"/><rect x="465.00" y="217.55" width="1" height="8.05" fill="#ff2020"/><rect x="466.00" y="209.93" width="1" height="15.67" fill="#ff2020"/><rect x="466.00" y="217.15" width="1" height="8.45" fill="#4030ff"/><rect x="467.00" y="211.65" width="1" height="13.95" fill="#85104f"/><rect x="467.00" y="222.48" width="1" height="3.12" fill="#85104f"/><rect x="468.00" y="213.26" width="1" height="12.34" fill="#ff2020"/><rect x="468.00" y="223.07" width="1" height="2.53" fill="#4030ff"/><rect x="469.00" y="210.73" width="1" height="14.87" fill="#ff2020"/><rect x="469.00" y="223.98" width="1" height="1.62" fill="#ff2020"/><rect x="470.00" y="214.20" width="1" height="11.40" fill="#ff2020"/><rect x="470.00" y="219.71" width="1" height="5.89" fill="#85104f"/><rect x="471.00" y="213.04" width="1" height="12.56" fill="#ff2020"/><rect x="471.00" y="219.14" width="1" height="6.46" fill="#ff2020"/><rect x="472.00" y="213.25" width="1" height="12.35" fill="#85104f"/><rect x="472.00" y="217.40" width="1" height="8.20" fill="#ff2020"/><rect x="473.00" y="212.01" width="1" height="13.59" fill="#85104f"/><rect x="473.00" y="217.53" width="1" height="8.07" fill="#85104f"/><rect x="474.00" y="212.98" width="1" height="12.62" fill="#4030ff"/><rect x="474.00" y="219.21" width="1" height="6.39" fill="#ff2020"/><rect x="475.00" y="214.57" width="1" height="11.03" fill="#ffffff"/><rect x="475.00" y="223.93" width="1" height="1.67" fill="#85104f"/><rect x="476.00" y="211.32" width="1" height="14.28" fill="#ff2020"/><rect x="476.00" y="222.99" width="1" height="2.61" fill="#ff2020"/><rect x="477.00" y="214.92" width="1" height="10.68" fill="#85104f"/><rect x="477.00" y="219.91" width="1" height="5.69" fill="#85104f"/><rect x="478.00" y="214.91" width="1" height="10.69" fill="#4030ff"/><rect x="478.00" y="218.44" width="1" height="7.16" fill="#ff8080"/><rect x="479.00" y="214.87" width="1" height="10.73" fill="#85104f"/><rect x="479.00" y="219.73" width="1" height="5.87" fill="#85104f"/><rect x="480.00" y="212.09" width="1" height="13.51" fill="#85104f"/><rect x="480.00" y="220.61" width="1" height="4.99" fill="#ff2020"/><rect x="481.00" y="213.35" width="1" height="12.25" fill="#4030ff"/><rect x="481.00" y="219.10" width="1" height="6.50" fill="#ff2020"/><rect x="482.00" y="211.78" width="1" height="13.82" fill="#ff8080"/><rect x="482.00" y="221.28" width="1" height="4.32" fill="#85104f"/><rect x="483.00" y="212.70" width="1" height="12.90" fill="#ff2020"/><rect x="483.00" y="219.83" width="1" height="5.77" fill="#ff8080"/><rect x="484.00" y="213.80" width="1" height="11.80" fill="#4030ff"/><rect x="484.00" y="221.04" width="1" height="4.56" fill="#85104f"/><rect x="485.00" y="214.78" width="1" height="10.82" fill="#ffffff"/><rect x="485.00" y="222.11" width="1" height="3.49" fill="#ff8080"/><rect x="486.00" y="214.42" width="1" height="11.18" fill="#ffffff"/><rect x="486.00" y="217.91" width="1" height="7.69" fill="#ff2020"/><rect x="487.00" y="212.35" width="1" height="13.25" fill="#ff8080"/><rect x="487.00" y="223.78" width="1" height="1.82" fill="#85104f"/><rect x="488.00" y="215.96" width="1" height="9.64" fill="#85104f"/><rect x="488.00" y="223.07" width="1" height="2.53" fill="#85104f"/><rect x="489.00" y="215.13" width="1" height="10.47" fill="#ff8080"/><rect x="489.00" y="218.95" width="1" height="6.65" fill="#ffffff"/><rect x="490.00" y="215.15" width="1" height="10.45" fill="#ff8080"/><rect x="490.00" y="224.28" width="1" height="1.32" fill="#85104f"/><rect x="491.00" y="213.01" width="1" height="12.59" fill="#ff2020"/><rect x="491.00" y="218.79" width="1" height="6.81" fill="#ff8080"/><rect x="492.00" y="215.49" width="1" height="10.11" fill="#4030ff"/><rect x="492.00" y="222.52" width="1" height="3.08" fill="#ffffff"/><rect x="493.00" y="216.34" width="1" height="9.26" fill="#ff2020"/><rect x="493.00" y="219.68" width="1" height="5.92" fill="#85104f"/><rect x="494.00" y="216.21" width="1" height="9.39" fill="#85104f"/><rect x="494.00" y="222.54" width="1" height="3.06" fill="#85104f"/><rect x="495.00" y="214.28" width="1" height="11.32" fill="#4030ff"/><rect x="495.00" y="224.02" width="1" height="1.58" fill="#ff8080"/><rect x="496.00" y="213.59" width="1" height="12.01" fill="#85104f"/><rect x="496.00" y="219.75" width="1" height="5.85" fill="#ff2020"/><rect x="497.00" y="214.09" width="1" height="11.51" fill="#ff8080"/><rect x="497.00" y="219.11" width="1" height="6.49" fill="#4030ff"/><rect x="498.00" y="214.23" width="1" height="11.37" fill="#ff2020"/><rect x="498.00" y="220.20" width="1" height="5.40" fill="#ff2020"/><rect x="499.00" y="216.33" width="1" height="9.27" fill="#85104f"/><rect x="499.00" y="220.98" width="1" height="4.62" fill="#ff8080"/><rect x="500.00" y="214.17" width="1" height="11.43" fill="#ff2020"/><rect x="500.00" y="223.31" width="1" height="2.29" fill="#85104f"/><rect x="501.00" y="214.45" width="1" height="11.15" fill="#85104f"/><rect x="501.00" y="221.42" width="1" height="4.18" fill="#4030ff"/><rect x="502.00" y="214.89" width="1" height="10.71" fill="#ff2020"/><rect x="502.00" y="223.90" width="1" height="1.70" fill="#85104f"/><rect x="503.00" y="214.05" width="1" height="11.55" fill="#ff8080"/><rect x="503.00" y="224.09" width="1" height="1.51" fill="#85104f"/><rect x="504.00" y="215.63" width="1" height="9.97" fill="#ff8080"/><rect x="504.00" y="220.86" width="1" height="4.74" fill="#ffffff"/><rect x="505.00" y="215.70" width="1" height="9.90" fill="#85104f"/><rect x="505.00" y="220.66" width="1" height="4.94" fill="#ffffff"/><rect x="506.00" y="214.36" width="1" height="11.24" fill="#85104f"/><rect x="506.00" y="219.39" width="1" height="6.21" fill="#85104f"/><rect x="507.00" y="213.38" width="1" height="12.22" fill="#ff2020"/><rect x="507.00" y="223.58" width="1" height="2.02" fill="#4030ff"/><rect x="508.00" y="215.60" width="1" height="10.00" fill="#4030ff"/><rect x="508.00" y="220.56" width="1" height="5.04" fill="#85104f"/><rect x="509.00" y="216.26" width="1" height="9.34" fill="#4030ff"/><rect x="509.00" y="223.93" width="1" height="1.67" fill="#ffffff"/><rect x="510.00" y="213.31" width="1" height="12.29" fill="#85104f"/><rect x="510.00" y="223.51" width="1" height="2.09" fill="#ffffff"/><rect x="511.00" y="214.51" width="1" height="11.09" fill="#ff2020"/><rect x="511.00" y="221.07" width="1" height="4.53" fill="#ff2020"/><rect x="512.00" y="214.57" width="1" height="11.03" fill="#ff8080"/><rect x="512.00" y="218.22" width="1" height="7.38" fill="#4030ff"/><rect x="513.00" y="215.29" width="1" height="10.31" fill="#85104f"/><rect x="513.00" y="220.94" width="1" height="4.66" fill="#ffffff"/><rect x="514.00" y="215.38" width="1" height="10.22" fill="#85104f"/><rect x="514.00" y="217.95" width="1" height="7.65" fill="#85104f"/><rect x="515.00" y="214.51" width="1" height="11.09" fill="#ff8080"/><rect x="515.00" y="221.97" width="1" height="3.63" fill="#ffffff"/><rect x="516.00" y="215.02" width="1" height="10.58" fill="#ff2020"/><rect x="516.00" y="223.58" width="1" height="2.02" fill="#ff8080"/><rect x="517.00" y="213.99" width="1" height="11.61" fill="#ffffff"/><rect x="517.00" y="217.68" width="1" height="7.92" fill="#ffffff"/><rect x="518.00" y="213.94" width="1" height="11.66" fill="#ff2020"/><rect x="518.00" y="221.27" width="1" height="4.33" fill="#ffffff"/><rect x="519.00" y="211.62" width="1" height="13.98" fill="#ff2020"/><rect x="519.00" y="218.84" width="1" height="6.76" fill="#ffffff"/><rect x="520.00" y="210.62" width="1" height="14.98" fill="#ff8080"/><rect x="520.00" y="217.56" width="1" height="8.04" fill="#4030ff"/><rect x="521.00" y="213.16" width="1" height="12.44" fill="#ff2020"/><rect x="521.00" y="218.57" width="1" height="7.03" fill="#ff2020"/><rect x="522.00" y="213.02" width="1" height="12.58" fill="#ffffff"/><rect x="522.00" y="219.82" width="1" height="5.78" fill="#85104f"/><rect x="523.00" y="210.58" width="1" height="15.02" fill="#ff2020"/><rect x="523.00" y="216.46" width="1" height="9.14" fill="#ffffff"/><rect x="524.00" y="213.04" width="1" height="12.56" fill="#85104f"/><rect x="524.00" y="223.10" width="1" height="2.50" fill="#ffffff"/><rect x="525.00" y="213.77" width="1" height="11.83" fill="#ff2020"/><rect x="525.00" y="217.25" width="1" height="8.35" fill="#ff8080"/><rect x="526.00" y="211.64" width="1" height="13.96" fill="#ff8080"/><rect x="526.00" y="223.74" width="1" height="1.86" fill="#ff2020"/><rect x="527.00" y="212.35" width="1" height="13.25" fill="#ff2020"/><rect x="527.00" y="220.17" width="1" height="5.43" fill="#ff8080"/><rect x="528.00" y="211.63" width="1" height="13.97" fill="#ff8080"/><rect x="528.00" y="223.70" width="1" height="1.90" fill="#ff2020"/><rect x="529.00" y="210.55" width="1" height="15.05" fill="#ff2020"/><rect x="529.00" y="219.92" width="1" height="5.68" fill="#ff2020"/><rect x="530.00" y="210.33" width="1" height="15.27" fill="#ff2020"/><rect x="530.00" y="220.86" width="1" height="4.74" fill="#85104f"/><rect x="531.00" y="211.25" width="1" height="14.35" fill="#ffffff"/><rect x="531.00" y="218.31" width="1" height="7.29" fill="#85104f"/><rect x="532.00" y="213.67" width="1" height="11.93" fill="#ff8080"/><rect x="532.00" y="216.16" width="1" height="9.44" fill="#ff2020"/><rect x="533.00" y="209.58" width="1" height="16.02" fill="#ff2020"/><rect x="533.00" y="219.96" width="1" height="5.64" fill="#85104f"/><rect x="534.00" y="209.45" width="1" height="16.15" fill="#ffffff"/><rect x="534.00" y="217.57" width="1" height="8.03" fill="#85104f"/><rect x="535.00" y="208.02" width="1" height="17.58" fill="#85104f"/><rect x="535.00" y="219.74" width="1" height="5.86" fill="#85104f"/><rect x="536.00" y="208.14" width="1" height="17.46" fill="#ff2020"/><rect x="536.00" y="221.10" width="1" height="4.50" fill="#ff2020"/><rect x="537.00" y="207.17" width="1" height="18.43" fill="#ff2020"/><rect x="537.00" y="214.27" width="1" height="11.33" fill="#4030ff"/><rect x="538.00" y="206.54" width="1" height="19.06" fill="#ff8080"/><rect x="538.00" y="212.73" width="1" height="12.87" fill="#85104f"/><rect x="539.00" y="203.85" width="1" height="21.75" fill="#85104f"/><rect x="539.00" y="215.04" width="1" height="10.56" fill="#ffffff"/><rect x="540.00" y="204.78" width="1" height="20.82" fill="#ffffff"/><rect x="540.00" y="213.73" width="1" height="11.87" fill="#4030ff"/><rect x="541.00" y="197.68" width="1" height="27.92" fill="#4030ff"/><rect x="541.00" y="217.42" width="1" height="8.18" fill="#ff8080"/><rect x="542.00" y="198.00" width="1" height="27.60" fill="#85104f"/><rect x="542.00" y="210.28" width="1" height="15.32" fill="#ff2020"/><rect x="543.00" y="199.03" width="1" height="26.57" fill="#4030ff"/><rect x="543.00" y="207.42" width="1" height="18.18" fill="#ff8080"/><rect x="544.00" y="197.30" width="1" height="28.30" fill="#ff8080"/><rect x="544.00" y="220.64" width="1" height="4.96" fill="#ff8080"/><rect x="545.00" y="195.79" width="1" height="29.81" fill="#ff8080"/><rect x="545.00" y="214.66" width="1" height="10.94" fill="#ff2020"/><rect x="546.00" y="195.40" width="1" height="30.20" fill="#85104f"/><rect x="546.00" y="210.14" width="1" height="15.46" fill="#85104f"/><rect x="547.00" y="196.30" width="1" height="29.30" fill="#85104f"/><rect x="547.00" y="209.41" width="1" height="16.19" fill="#ffffff"/><rect x="548.00" y="180.22" width="1" height="45.38" fill="#ff2020"/><rect x="548.00" y="202.83" width="1" height="22.77" fill="#ff2020"/><rect x="549.00" y="173.19" width="1" height="52.41" fill="#85104f"/><rect x="549.00" y="210.65" width="1" height="14.95" fill="#85104f"/><rect x="550.00" y="180.48" width="1" height="45.12" fill="#ff8080"/><rect x="550.00" y="203.84" width="1" height="21.76" fill="#ff8080"/><rect x="551.00" y="223.03" width="1" height="2.57" fill="#ff8080"/><rect x="551.00" y="224.75" width="1" height="0.85" fill="#ff8080"/><rect x="552.00" y="222.97" width="1" height="2.63" fill="#ff8080"/><rect x="552.00" y="225.26" width="1" height="0.34" fill="#85104f"/><rect x="553.00" y="223.18" width="1" height="2.42" fill="#85104f"/><rect x="553.00" y="225.18" width="1" height="0.42" fill="#ff8080"/><rect x="554.00" y="222.59" width="1" height="3.01" fill="#85104f"/><rect x="554.00" y="225.13" width="1" height="0.47" fill="#ff8080"/><rect x="555.00" y="223.26" width="1" height="2.34" fill="#ffffff"/><rect x="555.00" y="225.10" width="1" height="0.50" fill="#85104f"/><rect x="556.00" y="222.94" width="1" height="2.66" fill="#ff2020"/><rect x="556.00" y="224.80" width="1" height="0.80" fill="#ff2020"/><rect x="557.00" y="222.75" width="1" height="2.85" fill="#ffffff"/><rect x="557.00" y="224.73" width="1" height="0.87" fill="#4030ff"/><rect x="558.00" y="223.25" width="1" height="2.35" fill="#ff8080"/><rect x="558.00" y="224.62" width="1" height="0.98" fill="#ff2020"/><rect x="559.00" y="222.65" width="1" height="2.95" fill="#ff8080"/><rect x="559.00" y="225.08" width="1" height="0.52" fill="#ff2020"/><rect x="560.00" y="222.66" width="1" height="2.94" fill="#ffffff"/><rect x="560.00" y="224.34" width="1" height="1.26" fill="#4030ff"/><rect x="561.00" y="222.51" width="1" height="3.09" fill="#ff8080"/><rect x="561.00" y="224.29" width="1" height="1.31" fill="#ff2020"/><rect x="562.00" y="223.05" width="1" height="2.55" fill="#ff8080"/><rect x="562.00" y="223.85" width="1" height="1.75" fill="#85104f"/><rect x="563.00" y="223.02" width="1" height="2.58" fill="#ff2020"/><rect x="563.00" y="224.21" width="1" height="1.39" fill="#85104f"/><rect x="564.00" y="222.68" width="1" height="2.92" fill="#ff2020"/><rect x="564.00" y="224.27" width="1" height="1.33" fill="#ff8080"/><rect x="565.00" y="222.96" width="1" height="2.64" fill="#ff2020"/><rect x="565.00" y="224.67" width="1" height="0.93" fill="#ff8080"/><rect x="566.00" y="223.20" width="1" height="2.40" fill="#ff2020"/><rect x="566.00" y="224.57" width="1" height="1.03" fill="#ff2020"/><rect x="567.00" y="222.67" width="1" height="2.93" fill="#4030ff"/><rect x="567.00" y="223.82" width="1" height="1.78" fill="#4030ff"/><rect x="568.00" y="222.81" width="1" height="2.79" fill="#ff2020"/><rect x="568.00" y="224.01" width="1" height="1.59" fill="#ff8080"/><rect x="569.00" y="222.72" width="1" height="2.88" fill="#ff8080"/><rect x="569.00" y="224.00" width="1" height="1.60" fill="#ff2020"/><rect x="570.00" y="222.78" width="1" height="2.82" fill="#85104f"/><rect x="570.00" y="224.77" width="1" height="0.83" fill="#85104f"/><rect x="571.00" y="223.23" width="1" height="2.37" fill="#85104f"/><rect x="571.00" y="224.72" width="1" height="0.88" fill="#85104f"/><rect x="572.00" y="222.63" width="1" height="2.97" fill="#ff8080"/><rect x="572.00" y="224.24" width="1" height="1.36" fill="#ffffff"/><rect x="573.00" y="223.18" width="1" height="2.42" fill="#85104f"/><rect x="573.00" y="225.15" width="1" height="0.45" fill="#85104f"/><rect x="574.00" y="222.54" width="1" height="3.06" fill="#ff2020"/><rect x="574.00" y="224.12" width="1" height="1.48" fill="#4030ff"/><rect x="575.00" y="222.93" width="1" height="2.67" fill="#4030ff"/><rect x="575.00" y="224.61" width="1" height="0.99" fill="#85104f"/><rect x="576.00" y="222.93" width="1" height="2.67" fill="#ff2020"/><rect x="576.00" y="224.81" width="1" height="0.79" fill="#85104f"/><rect x="577.00" y="222.51" width="1" height="3.09" fill="#85104f"/><rect x="577.00" y="224.94" width="1" height="0.66" fill="#ffffff"/><rect x="578.00" y="223.25" width="1" height="2.35" fill="#ffffff"/><rect x="578.00" y="223.97" width="1" height="1.63" fill="#ff8080"/><rect x="579.00" y="223.00" width="1" height="2.60" fill="#ff2020"/><rect x="579.00" y="225.13" width="1" height="0.47" fill="#ff2020"/><rect x="580.00" y="223.06" width="1" height="2.54" fill="#85104f"/><rect x="580.00" y="223.86" width="1" height="1.74" fill="#85104f"/><rect x="581.00" y="222.51" width="1" height="3.09" fill="#ff8080"/><rect x="581.00" y="225.06" width="1" height="0.54" fill="#ff8080"/><rect x="582.00" y="200.86" width="1" height="24.74" fill="#ff2020"/><rect x="582.00" y="207.10" width="1" height="18.50" fill="#85104f"/><rect x="583.00" y="180.30" width="1" height="45.30" fill="#ff2020"/><rect x="583.00" y="200.63" width="1" height="24.97" fill="#85104f"/><rect x="584.00" y="187.56" width="1" height="38.04" fill="#ff8080"/><rect x="584.00" y="213.59" width="1" height="12.01" fill="#4030ff"/><rect x="585.00" y="185.67" width="1" height="39.93" fill="#85104f"/><rect x="585.00" y="210.29" width="1" height="15.31" fill="#ff8080"/><rect x="586.00" y="182.83" width="1" height="42.77" fill="#4030ff"/><rect x="586.00" y="219.83" width="1" height="5.77" fill="#85104f"/><rect x="587.00" y="193.01" width="1" height="32.59" fill="#ff2020"/><rect x="587.00" y="217.40" width="1" height="8.20" fill="#ff2020"/><rect x="588.00" y="185.98" width="1" height="39.62" fill="#ff8080"/><rect x="588.00" y="204.50" width="1" height="21.10" fill="#ff8080"/><rect x="589.00" y="194.22" width="1" height="31.38" fill="#85104f"/><rect x="589.00" y="213.17" width="1" height="12.43" fill="#ff2020"/><rect x="590.00" y="192.97" width="1" height="32.63" fill="#4030ff"/><rect x="590.00" y="220.23" width="1" height="5.37" fill="#ff2020"/><rect x="591.00" y="193.01" width="1" height="32.59" fill="#ff8080"/><rect x="591.00" y="209.46" width="1" height="16.14" fill="#ff8080"/><rect x="592.00" y="198.26" width="1" height="27.34" fill="#ff2020"/><rect x="592.00" y="216.32" width="1" height="9.28" fill="#ff2020"/><rect x="593.00" y="193.18" width="1" height="32.42" fill="#ffffff"/><rect x="593.00" y="210.23" width="1" height="15.37" fill="#ff2020"/><rect x="594.00" y="198.99" width="1" height="26.61" fill="#4030ff"/><rect x="594.00" y="206.98" width="1" height="18.62" fill="#ff8080"/><rect x="595.00" y="199.89" width="1" height="25.71" fill="#85104f"/><rect x="595.00" y="212.50" width="1" height="13.10" fill="#4030ff"/><rect x="596.00" y="201.57" width="1" height="24.03" fill="#ff2020"/><rect x="596.00" y="222.61" width="1" height="2.99" fill="#ff2020"/><rect x="597.00" y="199.51" width="1" height="26.09" fill="#ff8080"/><rect x="597.00" y="209.39" width="1" height="16.21" fill="#ff2020"/><rect x="598.00" y="205.06" width="1" height="20.54" fill="#4030ff"/><rect x="598.00" y="214.85" width="1" height="10.75" fill="#ff2020"/><rect x="599.00" y="206.68" width="1" height="18.92" fill="#ff8080"/><rect x="599.00" y="215.51" width="1" height="10.09" fill="#85104f"/><rect x="600.00" y="209.74" width="1" height="15.86" fill="#ffffff"/><rect x="600.00" y="218.76" width="1" height="6.84" fill="#ff8080"/><rect x="601.00" y="209.62" width="1" height="15.98" fill="#ff2020"/><rect x="601.00" y="221.59" width="1" height="4.01" fill="#ff2020"/><rect x="602.00" y="213.05" width="1" height="12.55" fill="#ff2020"/><rect x="602.00" y="220.61" width="1" height="4.99" fill="#85104f"/><rect x="603.00" y="214.04" width="1" height="11.56" fill="#4030ff"/><rect x="603.00" y="224.04" width="1" height="1.56" fill="#ff2020"/><rect x="604.00" y="213.68" width="1" height="11.92" fill="#85104f"/><rect x="604.00" y="221.57" width="1" height="4.03" fill="#ff2020"/><rect x="605.00" y="215.31" width="1" height="10.29" fill="#ff2020"/><rect x="605.00" y="219.36" width="1" height="6.24" fill="#4030ff"/><rect x="606.00" y="216.69" width="1" height="8.91" fill="#ff2020"/><rect x="606.00" y="219.62" width="1" height="5.98" fill="#ff2020"/><rect x="607.00" y="216.02" width="1" height="9.58" fill="#4030ff"/><rect x="607.00" y="220.31" width="1" height="5.29" fill="#4030ff"/><rect x="608.00" y="216.52" width="1" height="9.08" fill="#4030ff"/><rect x="608.00" y="222.10" width="1" height="3.50" fill="#ff2020"/><rect x="609.00" y="216.54" width="1" height="9.06" fill="#85104f"/><rect x="609.00" y="220.47" width="1" height="5.13" fill="#4030ff"/><rect x="610.00" y="217.60" width="1" height="8.00" fill="#ff2020"/><rect x="610.00" y="222.52" width="1" height="3.08" fill="#85104f"/><rect x="611.00" y="215.31" width="1" height="10.29" fill="#ffffff"/><rect x="611.00" y="219.52" width="1" height="6.08" fill="#ff8080"/><rect x="612.00" y="216.24" width="1" height="9.36" fill="#ff2020"/><rect x="612.00" y="222.65" width="1" height="2.95" fill="#ff2020"/><rect x="613.00" y="215.91" width="1" height="9.69" fill="#ff2020"/><rect x="613.00" y="224.18" width="1" height="1.42" fill="#85104f"/><rect x="614.00" y="217.48" width="1" height="8.12" fill="#ff8080"/><rect x="614.00" y="224.57" width="1" height="1.03" fill="#ff2020"/><rect x="615.00" y="216.04" width="1" height="9.56" fill="#4030ff"/><rect x="615.00" y="221.52" width="1" height="4.08" fill="#ff8080"/><rect x="616.00" y="218.02" width="1" height="7.58" fill="#4030ff"/><rect x="616.00" y="220.95" width="1" height="4.65" fill="#85104f"/><rect x="617.00" y="218.34" width="1" height="7.26" fill="#ff2020"/><rect x="617.00" y="222.85" width="1" height="2.75" fill="#85104f"/><rect x="618.00" y="218.78" width="1" height="6.82" fill="#85104f"/><rect x="618.00" y="222.60" width="1" height="3.00" fill="#ff2020"/><rect x="619.00" y="218.13" width="1" height="7.47" fill="#85104f"/><rect x="619.00" y="223.00" width="1" height="2.60" fill="#ff8080"/><rect x="620.00" y="218.05" width="1" height="7.55" fill="#ff2020"/><rect x="620.00" y="221.22" width="1" height="4.38" fill="#85104f"/><rect x="621.00" y="218.34" width="1" height="7.26" fill="#ff8080"/><rect x="621.00" y="221.52" width="1" height="4.08" fill="#4030ff"/>
<path d="M622.30 225.60L623.50 218.34L624.70 225.60ZM626.40 225.60L627.60 218.26L628.80 225.60ZM630.50 225.60L631.70 219.04L632.90 225.60ZM634.60 225.60L635.80 218.84L637.00 225.60ZM638.70 225.60L639.90 218.70L641.10 225.60ZM642.80 225.60L644.00 220.23L645.20 225.60ZM646.90 225.60L648.10 219.06L649.30 225.60ZM651.00 225.60L652.20 220.55L653.40 225.60ZM655.10 225.60L656.30 219.33L657.50 225.60ZM659.20 225.60L660.40 219.96L661.60 225.60ZM663.30 225.60L664.50 220.53L665.70 225.60ZM667.40 225.60L668.60 221.17L669.80 225.60ZM671.50 225.60L672.70 221.64L673.90 225.60ZM675.60 225.60L676.80 222.09L678.00 225.60ZM679.70 225.60L680.90 222.51L682.10 225.60ZM683.80 225.60L685.00 223.28L686.20 225.60ZM687.90 225.60L689.10 222.26L690.30 225.60ZM692.00 225.60L693.20 223.07L694.40 225.60ZM696.10 225.60L697.30 222.85L698.50 225.60ZM700.20 225.60L701.40 223.41L702.60 225.60ZM704.30 225.60L705.50 223.87L706.70 225.60Z" fill="#ffa0a0"/>
<path d="M622.30 225.60L623.50 218.34L624.70 225.60M626.40 225.60L627.60 218.26L628.80 225.60M630.50 225.60L631.70 219.04L632.90 225.60M634.60 225.60L635.80 218.84L637.00 225.60M638.70 225.60L639.90 218.70L641.10 225.60M642.80 225.60L644.00 220.23L645.20 225.60M646.90 225.60L648.10 219.06L649.30 225.60M651.00 225.60L652.20 220.55L653.40 225.60M655.10 225.60L656.30 219.33L657.50 225.60M659.20 225.60L660.40 219.96L661.60 225.60M663.30 225.60L664.50 220.53L665.70 225.60M667.40 225.60L668.60 221.17L669.80 225.60M671.50 225.60L672.70 221.64L673.90 225.60M675.60 225.60L676.80 222.09L678.00 225.60M679.70 225.60L680.90 222.51L682.10 225.60M683.80 225.60L685.00 223.28L686.20 225.60M687.90 225.60L689.10 222.26L690.30 225.60M692.00 225.60L693.20 223.07L694.40 225.60M696.10 225.60L697.30 222.85L698.50 225.60M700.20 225.60L701.40 223.41L702.60 225.60M704.30 225.60L705.50 223.87L706.70 225.60" stroke="#ff2a2a" stroke-width="0.8" fill="none"/>
<path d="M622 224.6H705.5" stroke="#5a0a70" stroke-width="1.4"/>
<path d="M419.5 225H705.5" stroke="#ff0000" stroke-width="1.2"/>
</g>
<rect x="644" y="21" width="72.5" height="36.5" fill="#fff"/>
<line x1="647.6" y1="32.1" x2="670.8" y2="32.1" stroke="#7070ff" stroke-width="1.1"/>
<line x1="647.6" y1="47.6" x2="670.8" y2="47.6" stroke="#ff7070" stroke-width="1.1"/>
<path d="M419.20 19.40H717.70V225.60H419.20Z" class="ax"/>
<path d="M478.90 225.60v-3.5M478.90 19.40v3.5" class="ax"/>
<path d="M538.60 225.60v-3.5M538.60 19.40v3.5" class="ax"/>
<path d="M598.30 225.60v-3.5M598.30 19.40v3.5" class="ax"/>
<path d="M658.00 225.60v-3.5M658.00 19.40v3.5" class="ax"/>
<path d="M419.20 174.05h3.5M717.70 174.05h-3.5" class="ax"/>
<path d="M419.20 122.50h3.5M717.70 122.50h-3.5" class="ax"/>
<path d="M419.20 70.95h3.5M717.70 70.95h-3.5" class="ax"/>
<text x="37.6" y="230.35" font-size="13" text-anchor="end" font-weight="normal" >0</text>
<text x="37.6" y="186.63" font-size="13" text-anchor="end" font-weight="normal" >0.5</text>
<text x="37.6" y="142.9" font-size="13" text-anchor="end" font-weight="normal" >1</text>
<text x="37.6" y="99.18" font-size="13" text-anchor="end" font-weight="normal" >1.5</text>
<text x="37.6" y="55.45" font-size="13" text-anchor="end" font-weight="normal" >2</text>
<text x="40.1" y="239.0" font-size="13" text-anchor="middle" font-weight="normal" >0</text>
<text x="104.26" y="239.0" font-size="13" text-anchor="middle" font-weight="normal" >0.02</text>
<text x="168.42" y="239.0" font-size="13" text-anchor="middle" font-weight="normal" >0.04</text>
<text x="232.58" y="239.0" font-size="13" text-anchor="middle" font-weight="normal" >0.06</text>
<text x="296.74" y="239.0" font-size="13" text-anchor="middle" font-weight="normal" >0.08</text>
<text x="360.9" y="239.0" font-size="13" text-anchor="middle" font-weight="normal" >0.1</text>
<text x="199.9" y="252.4" font-size="13.4" text-anchor="middle" font-weight="normal" textLength="168" lengthAdjust="spacingAndGlyphs" >Time for a single rotation (s)</text>
<text x="0" y="0" font-size="12.8" text-anchor="middle" transform="translate(12.7 122.5) rotate(-90)">Stress (MPa)</text>
<text x="39.4" y="16.8" font-size="12.8" text-anchor="start" font-weight="normal" >x 10</text>
<text x="64.8" y="8.9" font-size="8.6" text-anchor="start" font-weight="normal" >8</text>
<text x="416.4" y="230.25" font-size="13" text-anchor="end" font-weight="normal" >0</text>
<text x="416.4" y="178.7" font-size="13" text-anchor="end" font-weight="normal" >2</text>
<text x="416.4" y="127.15" font-size="13" text-anchor="end" font-weight="normal" >4</text>
<text x="416.4" y="75.6" font-size="13" text-anchor="end" font-weight="normal" >6</text>
<text x="416.4" y="24.05" font-size="13" text-anchor="end" font-weight="normal" >8</text>
<text x="419.2" y="238.6" font-size="12.6" text-anchor="middle" font-weight="normal" >0</text>
<text x="478.9" y="238.6" font-size="12.6" text-anchor="middle" font-weight="normal" >0.02</text>
<text x="538.6" y="238.6" font-size="12.6" text-anchor="middle" font-weight="normal" >0.04</text>
<text x="598.3" y="238.6" font-size="12.6" text-anchor="middle" font-weight="normal" >0.06</text>
<text x="658.0" y="238.6" font-size="12.6" text-anchor="middle" font-weight="normal" >0.08</text>
<text x="717.7" y="238.6" font-size="12.6" text-anchor="middle" font-weight="normal" >0.1</text>
<text x="567.6" y="252.4" font-size="12.9" text-anchor="middle" font-weight="normal" textLength="157" lengthAdjust="spacingAndGlyphs" >Time for a single rotation (s)</text>
<text x="0" y="0" font-size="12.9" text-anchor="middle" transform="translate(403.0 122.8) rotate(-90)">Power (Watt)</text>
<text x="418.4" y="15.2" font-size="12.3" text-anchor="start" font-weight="normal" >x 10</text>
<text x="441.8" y="7.4" font-size="8.2" text-anchor="start" font-weight="normal" >-4</text>
<text x="323.4" y="39.3" font-size="9.9" text-anchor="start" font-weight="normal" >DDO</text>
<text x="323.4" y="51.0" font-size="9.9" text-anchor="start" font-weight="normal" >RBDO</text>
<text x="673.6" y="36.8" font-size="12.45" text-anchor="start" font-weight="normal" >DDO</text>
<text x="673.6" y="53.0" font-size="12.45" text-anchor="start" font-weight="normal" >RBDO</text>
<text x="145.0" y="33.5" font-size="9.3" text-anchor="start" font-weight="bold" textLength="143.3" lengthAdjust="spacingAndGlyphs" style="stroke:#000;stroke-width:0.25;fill:#000" >Substrate Yield Stress Threshold</text>
<text x="282.7" y="76.9" font-size="9.3" text-anchor="start" font-weight="bold" textLength="71.4" lengthAdjust="spacingAndGlyphs" style="stroke:#000;stroke-width:0.25;fill:#000" >Substrate Stress</text>
<text x="49.0" y="170.4" font-size="9.3" text-anchor="start" font-weight="bold" textLength="116.9" lengthAdjust="spacingAndGlyphs" style="stroke:#000;stroke-width:0.25;fill:#000" >PZT Yield Stress Threshold</text>
<text x="309.6" y="190.8" font-size="9.3" text-anchor="start" font-weight="bold" textLength="44.6" lengthAdjust="spacingAndGlyphs" style="stroke:#000;stroke-width:0.25;fill:#000" >PZT Stress</text>
<line x1="140.6" y1="29.7" x2="134.51" y2="32.78" stroke="#222" stroke-width="0.8"/>
<path d="M131.3 34.4L133.75 31.26L135.28 34.29Z" fill="#111"/>
<line x1="287.3" y1="79.4" x2="281.19" y2="87.35" stroke="#222" stroke-width="0.8"/>
<path d="M279.0 90.2L279.85 86.31L282.54 88.38Z" fill="#111"/>
<line x1="68.9" y1="175.0" x2="62.62" y2="182.45" stroke="#222" stroke-width="0.8"/>
<path d="M60.3 185.2L61.32 181.35L63.92 183.54Z" fill="#111"/>
<line x1="309.1" y1="192.1" x2="303.56" y2="197.17" stroke="#222" stroke-width="0.8"/>
<path d="M300.9 199.6L302.41 195.92L304.70 198.42Z" fill="#111"/>
</svg>
</body></html>
